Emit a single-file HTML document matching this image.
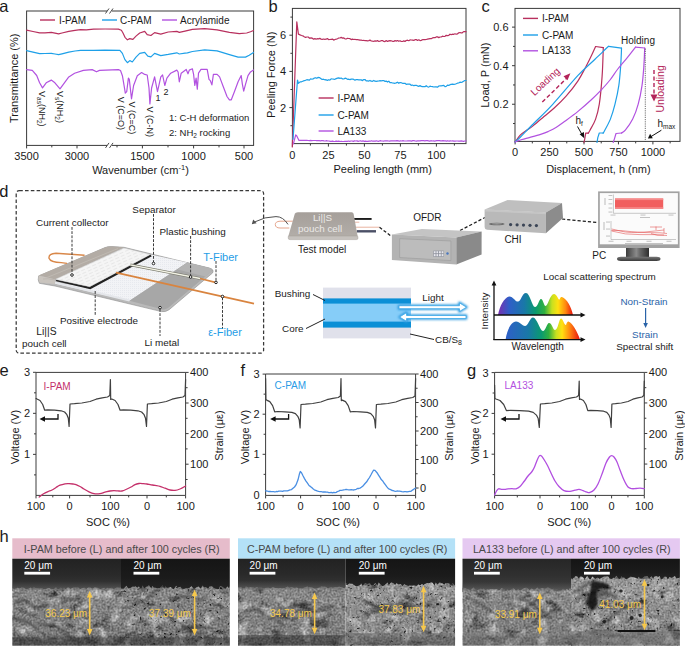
<!DOCTYPE html>
<html><head><meta charset="utf-8"><style>
html,body{margin:0;padding:0;background:#fff;}
svg{display:block;}
text{font-family:"Liberation Sans",sans-serif;}
</style></head><body>
<svg width="685" height="647" viewBox="0 0 685 647" font-family="Liberation Sans, sans-serif">
<rect width="685" height="647" fill="#fff"/>
<text x="-0.8" y="12.2" font-size="16.5" text-anchor="start" fill="#1a1a1a" >a</text>
<rect x="26.6" y="11" width="227.0" height="134.4" fill="none" stroke="#3a3a3a" stroke-width="1"/>
<rect x="107" y="9" width="5" height="4" fill="#fff"/>
<line x1="105.5" y1="13.5" x2="109" y2="8.5" stroke="#333" stroke-width="0.9" />
<line x1="109.5" y1="13.5" x2="113" y2="8.5" stroke="#333" stroke-width="0.9" />
<rect x="107" y="143.4" width="5" height="4" fill="#fff"/>
<line x1="105.5" y1="147.9" x2="109" y2="142.9" stroke="#333" stroke-width="0.9" />
<line x1="109.5" y1="147.9" x2="113" y2="142.9" stroke="#333" stroke-width="0.9" />
<line x1="26.6" y1="145.4" x2="26.6" y2="148.4" stroke="#3a3a3a" stroke-width="1" />
<line x1="77" y1="145.4" x2="77" y2="148.4" stroke="#3a3a3a" stroke-width="1" />
<line x1="51.8" y1="145.4" x2="51.8" y2="147.4" stroke="#3a3a3a" stroke-width="1" />
<line x1="142.4" y1="145.4" x2="142.4" y2="148.4" stroke="#3a3a3a" stroke-width="1" />
<line x1="193.6" y1="145.4" x2="193.6" y2="148.4" stroke="#3a3a3a" stroke-width="1" />
<line x1="244.0" y1="145.4" x2="244.0" y2="148.4" stroke="#3a3a3a" stroke-width="1" />
<line x1="117.0" y1="145.4" x2="117.0" y2="147.4" stroke="#3a3a3a" stroke-width="1" />
<line x1="168.0" y1="145.4" x2="168.0" y2="147.4" stroke="#3a3a3a" stroke-width="1" />
<line x1="219.0" y1="145.4" x2="219.0" y2="147.4" stroke="#3a3a3a" stroke-width="1" />
<text x="26.6" y="160.3" font-size="11" text-anchor="middle" fill="#1a1a1a" >3500</text>
<text x="77" y="160.3" font-size="11" text-anchor="middle" fill="#1a1a1a" >3000</text>
<text x="142.4" y="160.3" font-size="11" text-anchor="middle" fill="#1a1a1a" >1500</text>
<text x="193.6" y="160.3" font-size="11" text-anchor="middle" fill="#1a1a1a" >1000</text>
<text x="244" y="160.3" font-size="11" text-anchor="middle" fill="#1a1a1a" >500</text>
<text x="140.5" y="174" font-size="11" text-anchor="middle" fill="#1a1a1a" >Wavenumber (cm<tspan font-size="7.5" dy="-4">-1</tspan><tspan dy="4">)</tspan></text>
<text transform="translate(17.6,78.3) rotate(-90)" font-size="11" text-anchor="middle" fill="#1a1a1a">Transmittance (%)</text>
<line x1="40" y1="20" x2="55" y2="20" stroke="#b8305e" stroke-width="1.4" />
<text x="59" y="23.6" font-size="10" text-anchor="start" fill="#1a1a1a" >I-PAM</text>
<line x1="102" y1="20" x2="117" y2="20" stroke="#1ea0e8" stroke-width="1.4" />
<text x="120" y="23.6" font-size="10" text-anchor="start" fill="#1a1a1a" >C-PAM</text>
<line x1="162" y1="20" x2="177" y2="20" stroke="#b252e0" stroke-width="1.4" />
<text x="180" y="23.6" font-size="10" text-anchor="start" fill="#1a1a1a" >Acrylamide</text>
<path d="M26.6,30.2 L33.0,31.5 L39.6,32.8 L45.0,32.8 L51.3,32.4 L55.0,33.2 L58.6,33.9 L62.0,33.0 L68.8,31.4 L75.0,30.3 L80.5,29.6 L86.3,29.9 L93.6,29.1 L105.0,29.0 L118.4,29.1 L121.4,30.2 L123.0,33.0 L125.0,37.3 L127.4,39.8 L129.8,38.6 L132.9,39.4 L136.0,36.1 L139.7,33.0 L144.7,31.4 L147.2,34.6 L150.9,35.5 L154.6,32.6 L160.8,34.2 L168.2,32.0 L176.8,31.4 L179.3,32.4 L185.0,31.1 L192.4,29.3 L204.7,28.7 L217.1,29.9 L229.4,32.4 L239.3,33.6 L246.7,33.0 L250.5,31.7 L253.5,30.5" fill="none" stroke="#b8305e" stroke-width="1.2" stroke-linejoin="round" stroke-linecap="round" />
<path d="M26.6,50.7 L33.0,52.2 L39.6,53.6 L45.0,53.5 L51.3,53.3 L55.0,54.0 L58.6,54.6 L62.0,53.8 L68.8,52.1 L75.0,51.0 L80.5,50.4 L93.6,50.4 L105.0,50.2 L119.9,50.3 L122.4,53.4 L124.9,59.6 L127.4,62.7 L129.8,60.6 L132.3,62.0 L136.0,57.1 L139.7,53.4 L144.7,52.4 L147.8,56.1 L150.9,56.9 L154.6,53.4 L160.8,55.6 L168.2,54.4 L176.8,52.8 L179.3,54.0 L185.0,53.1 L187.4,52.8 L192.4,51.5 L204.7,49.9 L217.1,50.9 L229.4,54.6 L238.1,57.1 L245.5,57.1 L249.2,55.2 L253.5,52.4" fill="none" stroke="#1ea0e8" stroke-width="1.2" stroke-linejoin="round" stroke-linecap="round" />
<path d="M26.6,69.6 L32.3,70.4 L36.7,75.5 L39.6,82.8 L42.5,87.9 L46.2,82.8 L51.3,80.1 L54.9,82.8 L60.0,88.9 L64.4,82.8 L68.8,76.9 L74.6,73.3 L83.4,70.4 L92.2,69.6 L96.5,71.8 L99.5,70.4 L118.4,69.6 L120.5,70.5 L122.4,75.7 L124.3,86.8 L125.3,93.2 L126.7,91.7 L128.4,78.1 L129.3,79.4 L131.5,98.8 L133.6,85.5 L137.3,75.7 L141.6,72.6 L144.7,74.4 L147.2,75.0 L149.0,88.0 L149.9,103.9 L151.6,88.0 L154.6,76.9 L157.5,91.6 L160.8,76.9 L162.6,75.0 L164.8,85.5 L166.9,78.1 L170.7,73.2 L176.8,70.1 L178.1,72.0 L179.3,81.8 L181.2,73.2 L186.2,69.4 L188.0,73.8 L189.3,70.1 L192.4,68.8 L193.6,74.4 L194.8,85.5 L196.1,78.1 L197.3,89.2 L198.5,73.2 L201.0,69.4 L207.2,69.4 L209.0,79.3 L210.3,80.6 L211.9,84.9 L213.4,74.4 L217.1,74.4 L219.6,76.9 L223.3,86.8 L227.0,96.5 L229.4,99.8 L231.3,99.8 L234.4,91.7 L238.1,81.8 L241.2,75.6 L242.4,84.3 L243.7,91.1 L245.5,84.3 L248.0,75.6 L250.5,71.9 L253.5,70.0" fill="none" stroke="#b252e0" stroke-width="1.2" stroke-linejoin="round" stroke-linecap="round" />
<text transform="translate(39.4,91) rotate(90)" font-size="9" fill="#1a1a1a">V<tspan font-size="6.5" dy="2">as</tspan><tspan dy="-2">(NH<tspan font-size="6.5" dy="2">2</tspan><tspan dy="-2">)</tspan></tspan></text>
<text transform="translate(57.2,91) rotate(90)" font-size="9" fill="#1a1a1a">V<tspan font-size="6.5" dy="2">s</tspan><tspan dy="-2">(NH<tspan font-size="6.5" dy="2">2</tspan><tspan dy="-2">)</tspan></tspan></text>
<text transform="translate(118.0,96.8) rotate(90)" font-size="9" fill="#1a1a1a">V (C=O)</text>
<text transform="translate(128.6,101.4) rotate(90)" font-size="9" fill="#1a1a1a">V (C=C)</text>
<text transform="translate(146.5,106.5) rotate(90)" font-size="9" fill="#1a1a1a">V (C-N)</text>
<text x="155.5" y="100.8" font-size="9" text-anchor="start" fill="#1a1a1a" >1</text>
<text x="163.6" y="94.7" font-size="9" text-anchor="start" fill="#1a1a1a" >2</text>
<text x="169" y="121" font-size="9.5" text-anchor="start" fill="#1a1a1a" >1: C-H deformation</text>
<text x="169" y="136" font-size="9.5" text-anchor="start" fill="#1a1a1a" >2: NH<tspan font-size="6.5" dy="2">2</tspan><tspan dy="-2"> rocking</tspan></text>
<text x="268.6" y="12.2" font-size="16.5" text-anchor="start" fill="#1a1a1a" >b</text>
<rect x="292.4" y="8.4" width="173.60000000000002" height="135.2" fill="none" stroke="#3a3a3a" stroke-width="1"/>
<line x1="289.4" y1="107.60000000000001" x2="292.4" y2="107.60000000000001" stroke="#3a3a3a" stroke-width="1" />
<text x="286.2" y="111.60000000000001" font-size="11" text-anchor="end" fill="#1a1a1a" >2</text>
<line x1="289.4" y1="71.4" x2="292.4" y2="71.4" stroke="#3a3a3a" stroke-width="1" />
<text x="286.2" y="75.4" font-size="11" text-anchor="end" fill="#1a1a1a" >4</text>
<line x1="289.4" y1="35.2" x2="292.4" y2="35.2" stroke="#3a3a3a" stroke-width="1" />
<text x="286.2" y="39.2" font-size="11" text-anchor="end" fill="#1a1a1a" >6</text>
<line x1="290.4" y1="125.70000000000002" x2="292.4" y2="125.70000000000002" stroke="#3a3a3a" stroke-width="1" />
<line x1="290.4" y1="89.5" x2="292.4" y2="89.5" stroke="#3a3a3a" stroke-width="1" />
<line x1="290.4" y1="53.30000000000001" x2="292.4" y2="53.30000000000001" stroke="#3a3a3a" stroke-width="1" />
<line x1="290.4" y1="17.099999999999994" x2="292.4" y2="17.099999999999994" stroke="#3a3a3a" stroke-width="1" />
<line x1="292.4" y1="143.6" x2="292.4" y2="146.6" stroke="#3a3a3a" stroke-width="1" />
<text x="292.4" y="158.6" font-size="11" text-anchor="middle" fill="#1a1a1a" >0</text>
<line x1="328.4" y1="143.6" x2="328.4" y2="146.6" stroke="#3a3a3a" stroke-width="1" />
<text x="328.4" y="158.6" font-size="11" text-anchor="middle" fill="#1a1a1a" >25</text>
<line x1="364.4" y1="143.6" x2="364.4" y2="146.6" stroke="#3a3a3a" stroke-width="1" />
<text x="364.4" y="158.6" font-size="11" text-anchor="middle" fill="#1a1a1a" >50</text>
<line x1="400.4" y1="143.6" x2="400.4" y2="146.6" stroke="#3a3a3a" stroke-width="1" />
<text x="400.4" y="158.6" font-size="11" text-anchor="middle" fill="#1a1a1a" >75</text>
<line x1="436.4" y1="143.6" x2="436.4" y2="146.6" stroke="#3a3a3a" stroke-width="1" />
<text x="436.4" y="158.6" font-size="11" text-anchor="middle" fill="#1a1a1a" >100</text>
<line x1="310.4" y1="143.6" x2="310.4" y2="145.6" stroke="#3a3a3a" stroke-width="1" />
<line x1="346.4" y1="143.6" x2="346.4" y2="145.6" stroke="#3a3a3a" stroke-width="1" />
<line x1="382.4" y1="143.6" x2="382.4" y2="145.6" stroke="#3a3a3a" stroke-width="1" />
<line x1="418.4" y1="143.6" x2="418.4" y2="145.6" stroke="#3a3a3a" stroke-width="1" />
<line x1="454.4" y1="143.6" x2="454.4" y2="145.6" stroke="#3a3a3a" stroke-width="1" />
<text x="382.7" y="173" font-size="11" text-anchor="middle" fill="#1a1a1a" >Peeling length (mm)</text>
<text transform="translate(275,74.8) rotate(-90)" font-size="11" text-anchor="middle" fill="#1a1a1a">Peeling Force (N)</text>
<line x1="318.6" y1="98" x2="333.6" y2="98" stroke="#b8305e" stroke-width="1.4" />
<text x="337.4" y="101.6" font-size="10" text-anchor="start" fill="#1a1a1a" >I-PAM</text>
<line x1="318.6" y1="115" x2="333.6" y2="115" stroke="#1ea0e8" stroke-width="1.4" />
<text x="337.4" y="118.6" font-size="10" text-anchor="start" fill="#1a1a1a" >C-PAM</text>
<line x1="318.6" y1="131" x2="333.6" y2="131" stroke="#b252e0" stroke-width="1.4" />
<text x="337.4" y="134.6" font-size="10" text-anchor="start" fill="#1a1a1a" >LA133</text>
<path d="M292.3,147.0 L296.8,21.8 L298.4,34.1 L300.1,34.9 L301.5,35.5 L302.8,35.8 L304.2,36.8 L305.5,37.4 L306.9,37.0 L308.2,37.0 L309.6,38.3 L310.9,37.9 L312.3,38.2 L313.6,39.2 L314.8,38.6 L316.1,39.1 L317.3,38.7 L318.6,38.9 L319.8,38.4 L321.1,39.1 L322.3,39.4 L323.6,39.0 L324.8,39.3 L326.1,39.2 L327.3,38.6 L328.6,39.6 L329.9,39.5 L331.2,39.3 L332.4,39.1 L333.7,40.1 L335.0,39.5 L336.2,39.2 L337.5,38.7 L338.7,38.0 L340.0,38.0 L341.2,37.4 L342.5,38.1 L343.8,37.9 L345.0,38.8 L346.2,39.0 L347.5,38.3 L348.8,38.5 L350.0,38.7 L351.2,39.6 L352.5,39.1 L353.8,39.5 L355.0,39.3 L356.2,39.7 L357.5,39.7 L358.8,39.8 L360.0,40.1 L361.2,40.1 L362.5,40.5 L363.8,40.3 L365.0,40.7 L366.2,40.6 L367.5,40.9 L368.8,40.6 L370.0,40.1 L371.2,41.0 L372.5,41.2 L373.8,41.3 L375.0,40.9 L376.2,41.2 L377.5,40.6 L378.8,41.4 L380.0,41.1 L381.2,40.7 L382.5,40.5 L383.8,41.4 L385.0,41.6 L386.2,40.5 L387.5,41.4 L388.8,40.9 L390.0,40.6 L391.2,40.8 L392.5,41.3 L393.8,41.4 L395.0,40.5 L396.2,41.1 L397.5,40.5 L398.8,41.3 L400.0,40.8 L401.2,41.4 L402.5,41.5 L403.8,40.9 L405.0,41.5 L406.2,40.5 L407.5,40.2 L408.8,40.7 L410.0,39.9 L411.2,40.0 L412.5,40.2 L413.8,40.4 L415.0,39.7 L416.2,39.5 L417.5,40.5 L418.8,39.8 L420.0,40.6 L421.2,40.4 L422.5,39.7 L423.8,39.7 L425.0,39.6 L426.2,39.5 L427.5,39.2 L428.8,38.9 L430.0,38.6 L431.2,38.7 L432.5,37.9 L433.8,37.6 L435.0,37.7 L436.2,36.9 L437.5,36.9 L438.8,37.6 L440.0,37.0 L441.2,37.0 L442.5,36.2 L443.8,36.5 L445.0,36.3 L446.2,35.3 L447.5,35.6 L448.8,35.3 L450.0,34.2 L451.2,34.6 L452.5,34.2 L453.8,34.3 L455.0,33.8 L456.2,34.2 L457.4,34.0 L458.7,32.8 L459.9,32.5 L461.1,32.8 L462.3,32.8 L463.6,31.6 L464.8,31.6 L466.0,31.7" fill="none" stroke="#b8305e" stroke-width="1.2" stroke-linejoin="round" stroke-linecap="round" />
<path d="M293.0,139.3 L297.5,80.0 L298.4,83.4 L300.1,81.9 L301.5,81.8 L302.8,81.2 L304.2,80.6 L305.5,80.3 L306.9,79.7 L308.1,79.8 L309.4,80.1 L310.6,78.8 L311.8,79.2 L313.1,79.0 L314.3,78.1 L315.5,77.7 L316.8,78.3 L318.0,77.4 L319.4,77.6 L320.7,78.5 L322.1,79.5 L323.4,79.2 L324.8,79.8 L326.1,79.7 L327.3,80.4 L328.6,79.7 L329.9,80.1 L331.1,78.9 L332.4,79.0 L333.7,79.2 L334.9,79.3 L336.2,78.6 L337.5,78.1 L338.7,77.9 L340.0,78.4 L341.2,78.0 L342.5,78.9 L343.8,79.0 L345.0,78.2 L346.2,78.4 L347.5,79.3 L348.8,79.2 L350.0,79.6 L351.2,79.1 L352.5,79.0 L353.8,79.4 L355.0,80.2 L356.2,79.5 L357.5,79.7 L358.8,79.9 L360.0,79.9 L361.2,79.9 L362.5,80.6 L363.8,79.6 L365.0,79.5 L366.2,80.8 L367.5,80.8 L368.8,81.1 L370.0,80.4 L371.2,81.2 L372.5,81.3 L373.8,80.4 L375.0,81.2 L376.2,81.4 L377.5,81.2 L378.8,81.0 L380.0,80.7 L381.2,80.8 L382.5,80.7 L383.8,80.6 L385.0,81.4 L386.2,81.1 L387.5,82.1 L388.8,81.2 L390.0,82.6 L391.2,82.5 L392.5,83.0 L393.8,83.1 L395.0,83.3 L396.2,82.9 L397.5,82.2 L398.8,83.3 L400.0,82.5 L401.2,82.7 L402.5,83.3 L403.8,83.3 L405.0,83.3 L406.2,84.3 L407.5,84.1 L408.8,84.0 L410.0,84.2 L411.2,85.3 L412.5,85.0 L413.8,85.7 L415.0,85.4 L416.2,85.3 L417.5,85.9 L418.8,86.4 L420.0,85.5 L421.2,86.4 L422.5,86.7 L423.8,86.6 L425.0,86.7 L426.2,85.7 L427.5,86.7 L428.8,87.1 L430.0,86.1 L431.2,86.5 L432.5,86.6 L433.8,87.0 L435.0,86.9 L436.2,86.9 L437.5,87.2 L438.8,86.0 L440.0,85.9 L441.2,85.8 L442.5,85.6 L443.8,85.4 L445.0,86.7 L446.2,86.4 L447.5,85.1 L448.8,85.4 L450.0,84.7 L451.2,84.4 L452.5,84.1 L453.8,84.3 L455.0,84.1 L456.2,83.7 L457.4,83.2 L458.7,83.0 L459.9,82.2 L461.1,82.3 L462.3,82.1 L463.6,81.2 L464.8,80.5 L466.0,80.5" fill="none" stroke="#1ea0e8" stroke-width="1.2" stroke-linejoin="round" stroke-linecap="round" />
<path d="M293.4,143.8 L295.7,134.8 L296.8,136.0 L299.0,140.4 L306.9,140.3 L308.1,140.5 L309.4,140.6 L310.6,140.4 L311.8,140.6 L313.0,140.5 L314.3,140.5 L315.5,140.5 L316.7,140.6 L317.9,140.7 L319.2,140.6 L320.4,140.8 L321.6,140.7 L322.8,140.7 L324.1,140.9 L325.3,141.0 L326.5,140.7 L327.7,141.0 L329.0,141.0 L330.2,141.3 L331.4,141.4 L332.6,141.1 L333.9,141.5 L335.1,141.4 L336.3,141.1 L337.5,141.3 L338.8,141.1 L340.0,141.5 L341.2,141.4 L342.4,141.5 L343.6,141.5 L344.8,141.4 L346.1,141.4 L347.3,141.3 L348.5,141.0 L349.7,141.3 L350.9,141.0 L352.1,141.0 L353.3,141.4 L354.5,140.9 L355.8,141.0 L357.0,140.9 L358.2,141.4 L359.4,141.0 L360.6,140.9 L361.8,141.3 L363.0,140.9 L364.2,141.3 L365.5,141.2 L366.7,141.3 L367.9,141.3 L369.1,141.1 L370.3,141.2 L371.5,140.8 L372.7,141.2 L373.9,141.0 L375.2,141.1 L376.4,140.8 L377.6,141.2 L378.8,141.3 L380.0,140.7 L381.2,140.9 L382.4,141.0 L383.6,141.2 L384.8,140.8 L386.1,140.8 L387.3,140.8 L388.5,141.0 L389.7,141.1 L390.9,140.9 L392.1,140.9 L393.3,140.9 L394.5,140.9 L395.8,140.9 L397.0,140.7 L398.2,140.9 L399.4,141.2 L400.6,140.8 L401.8,141.0 L403.0,140.7 L404.2,141.0 L405.5,141.0 L406.7,141.0 L407.9,140.9 L409.1,140.8 L410.3,140.9 L411.5,141.1 L412.7,140.6 L413.9,140.6 L415.2,141.0 L416.4,141.1 L417.6,140.8 L418.8,140.8 L420.0,140.9 L421.2,140.6 L422.4,140.7 L423.6,140.6 L424.8,140.9 L426.1,140.7 L427.3,140.7 L428.5,140.9 L429.7,141.1 L430.9,140.7 L432.1,141.0 L433.3,140.8 L434.5,141.1 L435.7,140.9 L436.9,140.7 L438.2,140.7 L439.4,140.6 L440.6,140.9 L441.8,140.8 L443.0,140.7 L444.2,140.8 L445.4,140.8 L446.6,141.1 L447.8,140.7 L449.1,141.2 L450.3,140.9 L451.5,141.0 L452.7,140.9 L453.9,141.2 L455.1,141.2 L456.3,141.0 L457.5,141.0 L458.7,141.1 L459.9,141.2 L461.2,140.9 L462.4,141.1 L463.6,141.3 L464.8,141.0 L466.0,140.8" fill="none" stroke="#b252e0" stroke-width="1.2" stroke-linejoin="round" stroke-linecap="round" />
<text x="481.6" y="12.2" font-size="16.5" text-anchor="start" fill="#1a1a1a" >c</text>
<rect x="515.0" y="8.4" width="165.0" height="133.0" fill="none" stroke="#3a3a3a" stroke-width="1"/>
<line x1="512.0" y1="104.24000000000001" x2="515.0" y2="104.24000000000001" stroke="#3a3a3a" stroke-width="1" />
<text x="508.5" y="108.24000000000001" font-size="11" text-anchor="end" fill="#1a1a1a" >0.2</text>
<line x1="512.0" y1="65.68" x2="515.0" y2="65.68" stroke="#3a3a3a" stroke-width="1" />
<text x="508.5" y="69.68" font-size="11" text-anchor="end" fill="#1a1a1a" >0.4</text>
<line x1="512.0" y1="27.120000000000005" x2="515.0" y2="27.120000000000005" stroke="#3a3a3a" stroke-width="1" />
<text x="508.5" y="31.120000000000005" font-size="11" text-anchor="end" fill="#1a1a1a" >0.6</text>
<line x1="513.0" y1="123.52000000000001" x2="515.0" y2="123.52000000000001" stroke="#3a3a3a" stroke-width="1" />
<line x1="513.0" y1="84.96000000000001" x2="515.0" y2="84.96000000000001" stroke="#3a3a3a" stroke-width="1" />
<line x1="513.0" y1="46.400000000000006" x2="515.0" y2="46.400000000000006" stroke="#3a3a3a" stroke-width="1" />
<line x1="515.1" y1="141.4" x2="515.1" y2="144.4" stroke="#3a3a3a" stroke-width="1" />
<text x="515.1" y="155.9" font-size="11" text-anchor="middle" fill="#1a1a1a" >0</text>
<line x1="549.5500000000001" y1="141.4" x2="549.5500000000001" y2="144.4" stroke="#3a3a3a" stroke-width="1" />
<text x="549.5500000000001" y="155.9" font-size="11" text-anchor="middle" fill="#1a1a1a" >250</text>
<line x1="584.0" y1="141.4" x2="584.0" y2="144.4" stroke="#3a3a3a" stroke-width="1" />
<text x="584.0" y="155.9" font-size="11" text-anchor="middle" fill="#1a1a1a" >500</text>
<line x1="618.45" y1="141.4" x2="618.45" y2="144.4" stroke="#3a3a3a" stroke-width="1" />
<text x="618.45" y="155.9" font-size="11" text-anchor="middle" fill="#1a1a1a" >750</text>
<line x1="652.9000000000001" y1="141.4" x2="652.9000000000001" y2="144.4" stroke="#3a3a3a" stroke-width="1" />
<text x="652.9000000000001" y="155.9" font-size="11" text-anchor="middle" fill="#1a1a1a" >1000</text>
<line x1="532.325" y1="141.4" x2="532.325" y2="143.4" stroke="#3a3a3a" stroke-width="1" />
<line x1="566.775" y1="141.4" x2="566.775" y2="143.4" stroke="#3a3a3a" stroke-width="1" />
<line x1="601.225" y1="141.4" x2="601.225" y2="143.4" stroke="#3a3a3a" stroke-width="1" />
<line x1="635.6750000000001" y1="141.4" x2="635.6750000000001" y2="143.4" stroke="#3a3a3a" stroke-width="1" />
<line x1="670.125" y1="141.4" x2="670.125" y2="143.4" stroke="#3a3a3a" stroke-width="1" />
<text x="598.4" y="173" font-size="11" text-anchor="middle" fill="#1a1a1a" >Displacement, h (nm)</text>
<text transform="translate(488.6,75.2) rotate(-90)" font-size="11" text-anchor="middle" fill="#1a1a1a">Load, P (mN)</text>
<line x1="523" y1="18.4" x2="538" y2="18.4" stroke="#b8305e" stroke-width="1.4" />
<text x="541.9" y="22" font-size="10" text-anchor="start" fill="#1a1a1a" >I-PAM</text>
<line x1="523" y1="35" x2="538" y2="35" stroke="#1ea0e8" stroke-width="1.4" />
<text x="541.9" y="38.6" font-size="10" text-anchor="start" fill="#1a1a1a" >C-PAM</text>
<line x1="523" y1="50.8" x2="538" y2="50.8" stroke="#b252e0" stroke-width="1.4" />
<text x="541.9" y="54.4" font-size="10" text-anchor="start" fill="#1a1a1a" >LA133</text>
<path d="M515.1,142.0 C516.0,140.9 518.2,137.2 520.2,135.2 C522.2,133.2 524.9,131.6 527.0,130.1 C529.1,128.6 530.2,128.2 533.0,125.9 C535.8,123.6 540.5,119.5 544.0,116.5 C547.5,113.5 550.5,111.4 554.2,108.0 C557.9,104.6 562.1,100.6 566.1,96.1 C570.1,91.6 574.6,85.9 578.0,80.8 C581.4,75.7 584.2,69.8 586.5,65.5 C588.8,61.2 590.1,58.5 591.6,55.3 C593.1,52.1 594.9,48.0 595.6,46.5" fill="none" stroke="#b8305e" stroke-width="1.2" stroke-linejoin="round" stroke-linecap="round" />
<path d="M595.6,46.5 L603.3,47.6" fill="none" stroke="#b8305e" stroke-width="1.2" stroke-linejoin="round" stroke-linecap="round" />
<path d="M603.3,47.6 C603.1,52.4 602.8,67.0 602.1,76.4 C601.4,85.8 600.4,97.1 599.3,104.2 C598.2,111.3 597.1,114.8 595.6,119.1 C594.1,123.4 591.2,127.8 590.0,130.2 C588.8,132.5 588.5,132.7 588.2,133.2" fill="none" stroke="#b8305e" stroke-width="1.2" stroke-linejoin="round" stroke-linecap="round" />
<path d="M588.2,133.2 L585.7,133.2 L584.8,138.6 L584.0,142.5" fill="none" stroke="#b8305e" stroke-width="1.2" stroke-linejoin="round" stroke-linecap="round" />
<path d="M515.1,142.0 C515.9,141.2 517.2,140.3 520.0,137.5 C522.8,134.7 526.7,130.5 532.1,125.0 C537.5,119.5 544.9,112.9 552.5,104.6 C560.1,96.3 570.9,83.0 578.0,75.4 C585.1,67.8 589.9,64.1 595.0,59.2 C600.1,54.4 606.3,48.4 608.6,46.3" fill="none" stroke="#1ea0e8" stroke-width="1.2" stroke-linejoin="round" stroke-linecap="round" />
<path d="M608.6,46.3 L621.5,48.2" fill="none" stroke="#1ea0e8" stroke-width="1.2" stroke-linejoin="round" stroke-linecap="round" />
<path d="M621.5,48.2 C621.4,51.4 621.1,60.8 620.6,67.1 C620.1,73.3 619.7,79.5 618.8,85.7 C617.9,91.9 616.4,98.6 615.0,104.2 C613.6,109.8 612.2,114.5 610.4,119.1 C608.5,123.7 605.1,129.7 603.9,132.0 C602.7,134.3 603.1,132.8 603.0,133.0" fill="none" stroke="#1ea0e8" stroke-width="1.2" stroke-linejoin="round" stroke-linecap="round" />
<path d="M603.0,133.0 L599.3,133.0 L597.8,137.6 L597.0,142.5" fill="none" stroke="#1ea0e8" stroke-width="1.2" stroke-linejoin="round" stroke-linecap="round" />
<path d="M515.1,142.0 C516.2,141.6 519.5,140.3 522.0,139.5 C524.5,138.7 526.9,138.2 530.0,137.3 C533.1,136.5 537.6,135.4 540.6,134.4 C543.6,133.4 545.4,132.8 548.0,131.6 C550.6,130.4 553.3,129.2 556.0,127.5 C558.7,125.8 560.7,124.3 564.4,121.6 C568.1,118.9 573.5,115.1 578.0,111.4 C582.5,107.7 587.6,103.2 591.6,99.5 C595.6,95.8 598.7,92.5 601.8,89.3 C604.9,86.0 607.3,83.4 610.0,80.0 C612.7,76.6 614.9,72.7 617.8,69.0 C620.6,65.3 624.1,61.4 627.1,57.8 C630.1,54.1 634.1,48.9 635.5,47.1" fill="none" stroke="#b252e0" stroke-width="1.2" stroke-linejoin="round" stroke-linecap="round" />
<path d="M635.5,47.1 L644.7,48.0" fill="none" stroke="#b252e0" stroke-width="1.2" stroke-linejoin="round" stroke-linecap="round" />
<path d="M644.7,48.0 C644.6,51.2 644.2,60.8 643.8,67.1 C643.3,73.4 642.9,79.5 642.0,85.7 C641.1,91.9 639.8,98.6 638.2,104.2 C636.7,109.8 634.9,114.8 632.7,119.1 C630.6,123.4 627.2,127.9 625.3,130.2 C623.4,132.5 622.1,132.5 621.5,133.0" fill="none" stroke="#b252e0" stroke-width="1.2" stroke-linejoin="round" stroke-linecap="round" />
<path d="M621.5,133.0 L616.0,133.5 L614.5,138.6 L613.2,142.5" fill="none" stroke="#b252e0" stroke-width="1.2" stroke-linejoin="round" stroke-linecap="round" />
<line x1="645.3" y1="48.6" x2="645.3" y2="141.5" stroke="#333" stroke-width="0.7" stroke-dasharray="1.2,1"/>
<text x="638" y="44.3" font-size="10" text-anchor="middle" fill="#1a1a1a" >Holding</text>
<line x1="542.3" y1="102" x2="567.5" y2="77.5" stroke="#b3245a" stroke-width="1.4" stroke-dasharray="4,2.5"/>
<path d="M570.4,73.2 L563.5,76.2 L567.5,80.2 Z" fill="#b3245a"/>
<text transform="translate(547.5,84) rotate(-43)" font-size="10" text-anchor="middle" fill="#b3245a">Loading</text>
<line x1="654" y1="69.9" x2="654" y2="96" stroke="#b3245a" stroke-width="1.4" stroke-dasharray="4,2.5"/>
<path d="M650.5,94.5 L657.5,94.5 L654,101.4 Z" fill="#b3245a"/>
<text transform="translate(664.3,88.9) rotate(-90)" font-size="10.5" text-anchor="middle" fill="#b3245a">Unloading</text>
<text x="575.5" y="124" font-size="10" text-anchor="start" fill="#1a1a1a" >h<tspan font-size="6.5" dy="2">f</tspan></text>
<line x1="577.5" y1="126.5" x2="582" y2="134.5" stroke="#111" stroke-width="1" />
<path d="M584.3,138.3 L579.6,134.2 L583.9,132.1 Z" fill="#111"/>
<text x="657.5" y="126.5" font-size="10" text-anchor="start" fill="#1a1a1a" >h<tspan font-size="6.5" dy="2">max</tspan></text>
<line x1="661.4" y1="130.2" x2="651" y2="136.6" stroke="#111" stroke-width="1" />
<path d="M647.9,138.6 L650.1,133.8 L652.8,138.3 Z" fill="#111"/>
<text x="-0.8" y="196.6" font-size="16.5" text-anchor="start" fill="#1a1a1a" >d</text>
<rect x="16.2" y="190.6" width="247.4" height="162.6" rx="3" fill="none" stroke="#383838" stroke-width="1.25" stroke-dasharray="3.6,2.2"/>
<defs><pattern id="dots" width="2" height="2" patternUnits="userSpaceOnUse"><rect width="2" height="2" fill="#f2f3f6"/><rect width="0.8" height="0.8" fill="#e2e4ea"/></pattern>
<pattern id="streak" width="6" height="3" patternUnits="userSpaceOnUse" patternTransform="rotate(-24)"><rect width="6" height="3" fill="#f5f5f5"/><rect y="1" width="4" height="0.7" fill="#e2e2e2"/></pattern></defs>
<path d="M38.6,276 L105,247.6 Q108,246.3 112,246.6 L124,247.3 L209.5,268.1 Q214.5,269.5 212.5,273 L169,309.8 Q165.5,312.3 161.5,311.6 L55,286 L39.4,283.3 Q37.5,280 38.6,276 Z" fill="#b9b9b9" stroke="#8c8c8c" stroke-width="0.6"/>
<path d="M55,283 L89.7,287 L150.3,254.5 L187.3,262.5 L129.5,300.8 L55.5,283.8 Z" fill="url(#dots)"/>
<path d="M55,282.5 L129.5,300.5" stroke="#e4e6ea" stroke-width="2.2"/>
<path d="M187.3,262.5 L209.5,268.1 Q213,269.3 211.3,271.6 L168,308 Q165,310 162,309.3 L129.5,300.8 Z" fill="#a7a7a7"/>
<path d="M187.3,262.5 L209.5,268.1 Q213,269.3 211.3,271.6 L205.5,276.5 L177.5,269.5 Z" fill="#b4b4b4"/>
<path d="M38.6,275.5 L105,247.4 Q108,246.2 112,246.5 L124,247.3 L55.4,279.5 Z" fill="#b3aca5"/>
<path d="M38.6,275.5 L55.4,279.5 L54.7,284 L39.6,282.6 Q37.6,279.5 38.6,275.5 Z" fill="#c9c4be"/>
<path d="M43,279 Q47,278 55,280" stroke="#bdb7b1" stroke-width="1" fill="none"/>
<path d="M47,277.5 L118,248.5" stroke="#bfb9b2" stroke-width="1" fill="none"/>
<path d="M55.4,279.5 L56.5,281.3 L90.3,289.3 L151.8,256.2 L150.3,254.5 L89.7,286.7 Z" fill="#222"/>
<path d="M55.4,279.3 L124,248 L150.3,254.5 L89.7,286.7 Z" fill="url(#streak)" stroke="#d0d0d0" stroke-width="0.4"/>
<path d="M84.6,255.3 L56,253.2 Q48.5,253.5 49,258.2 Q50.5,262.3 61.3,262.6 L67,263.4" fill="none" stroke="#d9884a" stroke-width="1.4"/>
<path d="M130.3,264.9 L200.1,278.5" stroke="#77776a" stroke-width="2.6" fill="none"/>
<path d="M130.3,264.9 L200.1,278.5" stroke="#f3f3e6" stroke-width="1.4" fill="none"/>
<path d="M200.1,278.5 L216.2,282.6" stroke="#d9843f" stroke-width="1.6" fill="none"/>
<path d="M116,272.6 L254,303.6" stroke="#d9843f" stroke-width="1.6" fill="none"/>
<line x1="72" y1="227" x2="72" y2="273" stroke="#3a3a3a" stroke-width="1" stroke-dasharray="2.8,1.4"/>
<circle cx="72" cy="275" r="1.3" fill="#fff" stroke="#111" stroke-width="0.9"/>
<line x1="153.5" y1="214" x2="153.5" y2="262" stroke="#3a3a3a" stroke-width="1" stroke-dasharray="2.8,1.4"/>
<circle cx="153.5" cy="263.5" r="1.3" fill="#fff" stroke="#111" stroke-width="0.9"/>
<line x1="190.6" y1="236" x2="190.6" y2="275.5" stroke="#3a3a3a" stroke-width="1" stroke-dasharray="2.8,1.4"/>
<circle cx="190.6" cy="277" r="1.3" fill="#fff" stroke="#111" stroke-width="0.9"/>
<line x1="216" y1="261" x2="216" y2="281" stroke="#3a3a3a" stroke-width="1" stroke-dasharray="2.8,1.4"/>
<circle cx="216" cy="282.4" r="1.3" fill="#fff" stroke="#111" stroke-width="0.9"/>
<line x1="222.5" y1="297.5" x2="222.5" y2="329" stroke="#3a3a3a" stroke-width="1" stroke-dasharray="2.8,1.4"/>
<circle cx="222.5" cy="296.5" r="1.3" fill="#fff" stroke="#111" stroke-width="0.9"/>
<line x1="160" y1="309" x2="160" y2="336" stroke="#3a3a3a" stroke-width="1" stroke-dasharray="2.8,1.4"/>
<circle cx="160" cy="307.6" r="1.3" fill="#fff" stroke="#111" stroke-width="0.9"/>
<line x1="95.2" y1="291" x2="95.2" y2="316" stroke="#3a3a3a" stroke-width="1" stroke-dasharray="2.8,1.4"/>
<text x="72.3" y="225.6" font-size="9.9" text-anchor="middle" fill="#1a1a1a" >Current collector</text>
<text x="154" y="212.7" font-size="9.9" text-anchor="middle" fill="#1a1a1a" >Separator</text>
<text x="192.6" y="234.7" font-size="9.9" text-anchor="middle" fill="#1a1a1a" >Plastic bushing</text>
<text x="220.6" y="260.8" font-size="11" text-anchor="middle" fill="#1f9de6" >T-Fiber</text>
<text x="225" y="336" font-size="11" text-anchor="middle" fill="#1f9de6" >ε-Fiber</text>
<text x="161.8" y="345.6" font-size="9.9" text-anchor="middle" fill="#1a1a1a" >Li metal</text>
<text x="99" y="323.6" font-size="9.9" text-anchor="middle" fill="#1a1a1a" >Positive electrode</text>
<text x="46.4" y="334.6" font-size="10.3" text-anchor="middle" fill="#1a1a1a" >Li||S</text>
<text x="44.3" y="347.4" font-size="9.9" text-anchor="middle" fill="#1a1a1a" >pouch  cell</text>
<path d="M292.8,221.2 L280,221.2 Q275.3,221.5 275.3,224.6 Q275.5,228 280,228 L289.3,228" fill="none" stroke="#e6a58c" stroke-width="1"/>
<path d="M288,224.4 Q283,216.5 276,216.6 Q265,216.5 254.5,222" fill="none" stroke="#505050" stroke-width="1"/>
<path d="M251.8,224.2 L253.2,219.6 L256.6,223.2 Z" fill="#505050"/>
<path d="M354,218 L371.6,218 L371.6,219.9 L354,219.9 Z" fill="#1c1c1c"/>
<path d="M354,221.7 L359.3,221.7 L359.3,222.7 L354,222.7 Z" fill="#eab8a6"/>
<path d="M356,226.7 L379.5,226.7 L379.5,227.7 L356,227.7 Z" fill="#e9b3a0"/>
<path d="M356.7,230.1 L376,230.1 L376,232.5 L356.7,232.5 Z" fill="#4b5066"/>
<defs><linearGradient id="tm" x1="0" x2="0" y1="0" y2="1"><stop offset="0" stop-color="#a59f9a"/><stop offset="1" stop-color="#b2ada8"/></linearGradient></defs>
<path d="M297.8,212.3 L351.7,212.3 Q353.2,212.3 353.6,213.8 L357.6,236 L288.4,236 L294.8,213.8 Q295.3,212.3 297.8,212.3 Z" fill="url(#tm)"/>
<path d="M288.4,236 L357.6,236 L358,238 Q358,239.6 356.4,239.6 L290,239.6 Q288.2,239.6 288.2,238 Z" fill="#c6c2be" stroke="#a29c97" stroke-width="0.5"/>
<text x="322.5" y="221.2" font-size="9.8" text-anchor="middle" fill="#ebe9e7" >Li||S</text>
<text x="320.1" y="232.2" font-size="9.8" text-anchor="middle" fill="#ebe9e7" >pouch cell</text>
<text x="322.1" y="252.6" font-size="10" text-anchor="middle" fill="#1a1a1a" >Test model</text>
<path d="M379.5,227.2 L391.5,236.5" stroke="#1e1e1e" stroke-width="1.25" stroke-dasharray="3.2,2" fill="none"/>
<path d="M460,230.5 L485,217.5" stroke="#1e1e1e" stroke-width="1.25" stroke-dasharray="3.2,2" fill="none"/>
<path d="M562,219 L597,222.5" stroke="#1e1e1e" stroke-width="1.25" stroke-dasharray="3.2,2" fill="none"/>
<path d="M391.9,234.6 L421.8,228.9 L481.6,231.5 L456.3,237.6 Z" fill="#c4c4c4"/>
<path d="M391.9,234.6 L456.3,237.6 L456.3,264.5 L391.9,259.9 Z" fill="#b3b3b3"/>
<path d="M456.3,237.6 L481.6,231.5 L481.6,254.5 L456.3,264.5 Z" fill="#8a8a8a"/>
<path d="M399.6,238.7 L450.9,241 L450.9,260.6 L399.6,257.5 Z" fill="#bcbcbc" stroke="#9a9a9a" stroke-width="0.6"/>
<rect x="433.3" y="250.7" width="10.5" height="6" fill="#8b8f9a"/>
<rect x="433.8" y="251.2" width="1.8" height="2.1" fill="#e8e8ee"/>
<rect x="433.8" y="254.1" width="1.8" height="2.1" fill="#e8e8ee"/>
<rect x="436.4" y="251.2" width="1.8" height="2.1" fill="#e8e8ee"/>
<rect x="436.4" y="254.1" width="1.8" height="2.1" fill="#e8e8ee"/>
<rect x="439.0" y="251.2" width="1.8" height="2.1" fill="#e8e8ee"/>
<rect x="439.0" y="254.1" width="1.8" height="2.1" fill="#e8e8ee"/>
<rect x="441.6" y="251.2" width="1.8" height="2.1" fill="#e8e8ee"/>
<rect x="441.6" y="254.1" width="1.8" height="2.1" fill="#e8e8ee"/>
<circle cx="447.5" cy="253.5" r="1.2" fill="#4a78c0"/>
<text x="427.3" y="220.8" font-size="10" text-anchor="middle" fill="#1a1a1a" >OFDR</text>
<path d="M484.6,209.5 L507.6,200 L562,203.1 L545.9,212.6 Z" fill="#bfbfbf"/>
<path d="M484.6,209.5 L545.9,212.6 L545.9,233.3 L487,229.8 Q484.6,229.5 484.6,227 Z" fill="#b9b9b9"/>
<path d="M545.9,212.6 L562,203.1 L563,218 L545.9,233.3 Z" fill="#8c8c8c"/>
<ellipse cx="496.8" cy="224" rx="7.8" ry="1.3" fill="#6a6a6a"/>
<ellipse cx="496.8" cy="223.8" rx="5.5" ry="0.6" fill="#a8a8a8"/>
<path d="M485.5,210 Q486,209.6 487,209.6 L545.9,212.7 L545.9,214.3 L485,211.4 Z" fill="#c6c6c6"/>
<circle cx="510.6" cy="224.6" r="1.6" fill="#3b4556"/>
<circle cx="517.1" cy="224.8" r="1.6" fill="#3b4556"/>
<circle cx="523.5" cy="225.1" r="1.6" fill="#3b4556"/>
<circle cx="530.0" cy="225.3" r="1.6" fill="#3b4556"/>
<circle cx="536.4" cy="225.6" r="1.6" fill="#3b4556"/>
<text x="513" y="243" font-size="10" text-anchor="middle" fill="#1a1a1a" >CHI</text>
<defs><linearGradient id="neck" x1="0" x2="1" y1="0" y2="0"><stop offset="0" stop-color="#3c3c3c"/><stop offset="0.45" stop-color="#8a8a8a"/><stop offset="0.6" stop-color="#6a6a6a"/><stop offset="1" stop-color="#2e2e2e"/></linearGradient>
<linearGradient id="pbase" x1="0" x2="0" y1="0" y2="1"><stop offset="0" stop-color="#777"/><stop offset="1" stop-color="#3a3a3a"/></linearGradient></defs>
<rect x="598.1" y="191.4" width="81.5" height="56.6" fill="#a2a2a2"/>
<rect x="599.8" y="193.1" width="78.1" height="51.2" fill="#fbfbfb"/>
<rect x="615" y="198.5" width="48.2" height="10.3" fill="#f15f5f"/>
<rect x="615" y="198.5" width="48.2" height="1.6" fill="#f58a8a"/>
<rect x="615" y="207.2" width="48.2" height="1.6" fill="#f58a8a"/>
<path d="M613.4,194.5 L613.4,213.3 L676,213.3" fill="none" stroke="#8a8a8a" stroke-width="0.45"/>
<rect x="608.5" y="195.1" width="3.8" height="0.9" fill="#bbb"/>
<rect x="608.5" y="199.1" width="3.8" height="0.9" fill="#bbb"/>
<rect x="608.5" y="203.4" width="3.8" height="0.9" fill="#bbb"/>
<rect x="608.5" y="207.6" width="3.8" height="0.9" fill="#bbb"/>
<rect x="608.5" y="211.6" width="3.8" height="0.9" fill="#bbb"/>
<rect x="604.5" y="198" width="1" height="7" fill="#bbb"/>
<rect x="610.5" y="214.6" width="5" height="0.9" fill="#bbb"/>
<rect x="640.5" y="214.6" width="5" height="0.9" fill="#bbb"/>
<rect x="668.5" y="214.6" width="5" height="0.9" fill="#bbb"/>
<rect x="640" y="217" width="10" height="0.9" fill="#bbb"/>
<path d="M611,221 L611,239.5 L676,239.5" fill="none" stroke="#8a8a8a" stroke-width="0.45"/>
<rect x="606" y="221.6" width="4" height="0.9" fill="#bbb"/>
<rect x="606" y="228.6" width="4" height="0.9" fill="#bbb"/>
<rect x="606" y="235.6" width="4" height="0.9" fill="#bbb"/>
<rect x="603.5" y="222" width="1" height="8" fill="#bbb"/>
<rect x="608.5" y="240.8" width="5" height="0.9" fill="#bbb"/>
<rect x="626.5" y="240.8" width="5" height="0.9" fill="#bbb"/>
<rect x="646.5" y="240.8" width="5" height="0.9" fill="#bbb"/>
<rect x="666.5" y="240.8" width="5" height="0.9" fill="#bbb"/>
<rect x="625" y="243" width="38" height="0.9" fill="#bbb"/>
<path d="M611.5,229 Q615,229.5 620,231 Q630,233.5 645,232 Q655,231 664,230 M611.5,230.5 Q620,230 630,231.5 Q645,233 660,232.8 L667,233.5 M611.5,231 Q625,235 640,234.6 Q655,234.2 667,235.5 M650,227 L662,227 M651,233.6 Q657,236 664,235 M664,228 L664,233 M656,226.5 L656,230" fill="none" stroke="#e14a4a" stroke-width="0.55"/>
<rect x="626" y="248" width="23" height="9.2" fill="url(#neck)"/>
<path d="M617,258.8 Q617,256.8 621,256.8 L656.5,256.8 Q660.5,256.8 660.5,258.8 Q660.5,261 656.5,261 L621,261 Q617,261 617,258.8 Z" fill="url(#pbase)"/>
<text x="599.2" y="258.8" font-size="10" text-anchor="middle" fill="#1a1a1a" >PC</text>
<text x="599.5" y="279.8" font-size="9.9" text-anchor="middle" fill="#1a1a1a" >Local scattering spectrum</text>
<rect x="323" y="287.6" width="88" height="50.8" fill="#e0e1eb"/>
<rect x="323" y="298.4" width="88" height="29.2" fill="#0b8fd6"/>
<rect x="323" y="303.6" width="88" height="18" fill="#86cdf8"/>
<text x="292.5" y="297.2" font-size="9.9" text-anchor="middle" fill="#1a1a1a" >Bushing</text>
<text x="292.8" y="332" font-size="9.9" text-anchor="middle" fill="#1a1a1a" >Core</text>
<line x1="313" y1="294.5" x2="325" y2="300.5" stroke="#222" stroke-width="1" />
<line x1="306" y1="328.5" x2="325" y2="319" stroke="#222" stroke-width="1" />
<text x="433" y="301" font-size="9.9" text-anchor="middle" fill="#1a1a1a" >Light</text>
<text x="435" y="343" font-size="9.9" fill="#1a1a1a">CB/S<tspan font-size="7" dy="2">8</tspan></text>
<line x1="410" y1="334" x2="434" y2="339.5" stroke="#222" stroke-width="1" />
<defs><filter id="glow" x="-0.2" y="-1" width="1.4" height="3"><feGaussianBlur stdDeviation="0.9"/></filter></defs>
<path d="M399,305.7 L459.5,305.7 L459.5,302.9 L466.5,307.2 L459.5,311.5 L459.5,308.7 L399,308.7 Z" fill="none" stroke="#2f9be0" stroke-width="2.6" stroke-linejoin="round" filter="url(#glow)"/>
<path d="M399,305.7 L459.5,305.7 L459.5,302.9 L466.5,307.2 L459.5,311.5 L459.5,308.7 L399,308.7 Z" fill="#fff" stroke="#4aaee8" stroke-width="0.9" stroke-linejoin="round"/>
<path d="M466,315.5 L406.5,315.5 L406.5,312.7 L399.5,317 L406.5,321.3 L406.5,318.5 L466,318.5 Z" fill="none" stroke="#2f9be0" stroke-width="2.6" stroke-linejoin="round" filter="url(#glow)"/>
<path d="M466,315.5 L406.5,315.5 L406.5,312.7 L399.5,317 L406.5,321.3 L406.5,318.5 L466,318.5 Z" fill="#fff" stroke="#4aaee8" stroke-width="0.9" stroke-linejoin="round"/>
<defs><linearGradient id="rb" x1="0" x2="1" y1="0" y2="0">
<stop offset="0" stop-color="#7a2fb0"/><stop offset="0.15" stop-color="#2f5fc8"/><stop offset="0.35" stop-color="#1978a8"/>
<stop offset="0.5" stop-color="#0a9a70"/><stop offset="0.62" stop-color="#30b040"/><stop offset="0.72" stop-color="#c8e020"/>
<stop offset="0.8" stop-color="#ffe010"/><stop offset="0.9" stop-color="#ff8a10"/><stop offset="1" stop-color="#e81010"/></linearGradient>
<linearGradient id="rb2" x1="0" x2="1" y1="0" y2="0">
<stop offset="0" stop-color="#2f5fc8"/><stop offset="0.3" stop-color="#1978a8"/>
<stop offset="0.48" stop-color="#0a9a70"/><stop offset="0.58" stop-color="#30b040"/><stop offset="0.68" stop-color="#c8e020"/>
<stop offset="0.76" stop-color="#ffe010"/><stop offset="0.86" stop-color="#ff8a10"/><stop offset="1" stop-color="#e81010"/></linearGradient></defs>
<path d="M498,315 C500,305 504,298 509,296.4 C513,296 515,301.6 518,301.6 C521,301.6 522,293 526,293 C530,293 532,307 535,307 C538,307 539,299 541,299 C543,299 544,306 545.5,306 C548,306 550,294 554,294 C557,294 558,300 559.6,299.6 C560.5,297 561,297 562,297 C567,299 571,306 573,315 Z" fill="url(#rb)"/>
<path d="M505.6,339.6 C507,330 511,322 516,321.6 C520,321.6 522,326 525,326 C528,326 530,317.4 533,317.4 C537,317.4 540,331 543,331 C545.5,331 547,323 549,323 C552,323 553,330 555,330 C558,330 559,318.4 561,318.4 C563,318.4 564,325 566,325 C567,322 568,321.6 568.5,321.6 C573,324 577,331 580,339.6 Z" fill="url(#rb2)"/>
<path d="M494,340 L494,284" stroke="#111" stroke-width="1.3"/>
<path d="M494,280.5 L491.6,285.5 L496.4,285.5 Z" fill="#111"/>
<path d="M494,315 L582,315" stroke="#111" stroke-width="1.3"/>
<path d="M585.5,315 L580.5,312.6 L580.5,317.4 Z" fill="#111"/>
<path d="M493.4,339.6 L582,339.6" stroke="#111" stroke-width="1.3"/>
<path d="M585.5,339.6 L580.5,337.2 L580.5,342 Z" fill="#111"/>
<text transform="translate(487.5,311) rotate(-90)" font-size="9.9" text-anchor="middle" fill="#1a1a1a">Intensity</text>
<text x="537.6" y="349.8" font-size="10" text-anchor="middle" fill="#1a1a1a" >Wavelength</text>
<text x="644" y="305" font-size="9.9" text-anchor="middle" fill="#2a63a8" >Non-Strain</text>
<line x1="645.6" y1="308" x2="645.6" y2="324" stroke="#2a63a8" stroke-width="1.2" />
<path d="M645.6,328 L643.3,323 L647.9,323 Z" fill="#2a63a8"/>
<text x="645" y="337.8" font-size="9.9" text-anchor="middle" fill="#2a63a8" >Strain</text>
<text x="644.8" y="349.5" font-size="9.9" text-anchor="middle" fill="#1a1a1a" >Spectral shift</text>
<text x="-0.5" y="376" font-size="16.5" text-anchor="start" fill="#1a1a1a" >e</text>
<path d="M36,495.4 L36,372.4 L185.6,372.4 L185.6,495.4 Z" fill="none" stroke="#3c3c3c" stroke-width="1"/>
<line x1="33" y1="454.37" x2="36" y2="454.37" stroke="#3c3c3c" stroke-width="1" />
<text x="30" y="458.37" font-size="11" text-anchor="end" fill="#1a1a1a" >1</text>
<line x1="33" y1="413.34" x2="36" y2="413.34" stroke="#3c3c3c" stroke-width="1" />
<text x="30" y="417.34" font-size="11" text-anchor="end" fill="#1a1a1a" >2</text>
<line x1="33" y1="372.30999999999995" x2="36" y2="372.30999999999995" stroke="#3c3c3c" stroke-width="1" />
<text x="30" y="376.30999999999995" font-size="11" text-anchor="end" fill="#1a1a1a" >3</text>
<line x1="34" y1="474.885" x2="36" y2="474.885" stroke="#3c3c3c" stroke-width="1" />
<line x1="34" y1="433.85499999999996" x2="36" y2="433.85499999999996" stroke="#3c3c3c" stroke-width="1" />
<line x1="34" y1="392.825" x2="36" y2="392.825" stroke="#3c3c3c" stroke-width="1" />
<line x1="185.6" y1="372.4" x2="188.6" y2="372.4" stroke="#3c3c3c" stroke-width="1" />
<text x="190.1" y="376.4" font-size="11" text-anchor="start" fill="#1a1a1a" >400</text>
<line x1="185.6" y1="403.0" x2="188.6" y2="403.0" stroke="#3c3c3c" stroke-width="1" />
<text x="190.1" y="407.0" font-size="11" text-anchor="start" fill="#1a1a1a" >300</text>
<line x1="185.6" y1="433.59999999999997" x2="188.6" y2="433.59999999999997" stroke="#3c3c3c" stroke-width="1" />
<text x="190.1" y="437.59999999999997" font-size="11" text-anchor="start" fill="#1a1a1a" >200</text>
<line x1="185.6" y1="464.2" x2="188.6" y2="464.2" stroke="#3c3c3c" stroke-width="1" />
<text x="190.1" y="468.2" font-size="11" text-anchor="start" fill="#1a1a1a" >100</text>
<line x1="185.6" y1="387.7" x2="187.6" y2="387.7" stroke="#3c3c3c" stroke-width="1" />
<line x1="185.6" y1="418.29999999999995" x2="187.6" y2="418.29999999999995" stroke="#3c3c3c" stroke-width="1" />
<line x1="185.6" y1="448.9" x2="187.6" y2="448.9" stroke="#3c3c3c" stroke-width="1" />
<line x1="185.6" y1="479.5" x2="187.6" y2="479.5" stroke="#3c3c3c" stroke-width="1" />
<line x1="36" y1="495.4" x2="36" y2="498.4" stroke="#3c3c3c" stroke-width="1" />
<line x1="69.6" y1="495.4" x2="69.6" y2="498.4" stroke="#3c3c3c" stroke-width="1" />
<line x1="110.4" y1="495.4" x2="110.4" y2="498.4" stroke="#3c3c3c" stroke-width="1" />
<line x1="147" y1="495.4" x2="147" y2="498.4" stroke="#3c3c3c" stroke-width="1" />
<line x1="185.6" y1="495.4" x2="185.6" y2="498.4" stroke="#3c3c3c" stroke-width="1" />
<line x1="52.8" y1="495.4" x2="52.8" y2="497.4" stroke="#3c3c3c" stroke-width="1" />
<line x1="90.0" y1="495.4" x2="90.0" y2="497.4" stroke="#3c3c3c" stroke-width="1" />
<line x1="128.7" y1="495.4" x2="128.7" y2="497.4" stroke="#3c3c3c" stroke-width="1" />
<line x1="166.3" y1="495.4" x2="166.3" y2="497.4" stroke="#3c3c3c" stroke-width="1" />
<text x="36" y="509.8" font-size="11" text-anchor="middle" fill="#1a1a1a" >100</text>
<text x="69.6" y="509.8" font-size="11" text-anchor="middle" fill="#1a1a1a" >0</text>
<text x="110.4" y="509.8" font-size="11" text-anchor="middle" fill="#1a1a1a" >100</text>
<text x="147" y="509.8" font-size="11" text-anchor="middle" fill="#1a1a1a" >0</text>
<text x="185.6" y="509.8" font-size="11" text-anchor="middle" fill="#1a1a1a" >100</text>
<text x="43.6" y="389.6" font-size="10" text-anchor="start" fill="#c4306a" >I-PAM</text>
<text transform="translate(18.8,437) rotate(-90)" font-size="11" text-anchor="middle" fill="#1a1a1a">Voltage (V)</text>
<text transform="translate(222.5,435.5) rotate(-90)" font-size="11" text-anchor="middle" fill="#1a1a1a">Strain (με)</text>
<path d="M58,414 L58,419 L44,419" fill="none" stroke="#111" stroke-width="1.3"/>
<path d="M39.5,419 L45,416.2 L45,421.8 Z" fill="#111"/>
<text x="240.6" y="376" font-size="16.5" text-anchor="start" fill="#1a1a1a" >f</text>
<path d="M265.6,495.4 L265.6,374 L415.6,374 L415.6,495.4 Z" fill="none" stroke="#3c3c3c" stroke-width="1"/>
<line x1="262.6" y1="454.29999999999995" x2="265.6" y2="454.29999999999995" stroke="#3c3c3c" stroke-width="1" />
<text x="259.6" y="458.29999999999995" font-size="11" text-anchor="end" fill="#1a1a1a" >1</text>
<line x1="262.6" y1="414.2" x2="265.6" y2="414.2" stroke="#3c3c3c" stroke-width="1" />
<text x="259.6" y="418.2" font-size="11" text-anchor="end" fill="#1a1a1a" >2</text>
<line x1="262.6" y1="374.09999999999997" x2="265.6" y2="374.09999999999997" stroke="#3c3c3c" stroke-width="1" />
<text x="259.6" y="378.09999999999997" font-size="11" text-anchor="end" fill="#1a1a1a" >3</text>
<line x1="263.6" y1="474.34999999999997" x2="265.6" y2="474.34999999999997" stroke="#3c3c3c" stroke-width="1" />
<line x1="263.6" y1="434.25" x2="265.6" y2="434.25" stroke="#3c3c3c" stroke-width="1" />
<line x1="263.6" y1="394.15" x2="265.6" y2="394.15" stroke="#3c3c3c" stroke-width="1" />
<text x="259.6" y="499.4" font-size="11" text-anchor="end" fill="#1a1a1a" >0</text>
<line x1="415.6" y1="374.0" x2="418.6" y2="374.0" stroke="#3c3c3c" stroke-width="1" />
<text x="420.1" y="378.0" font-size="11" text-anchor="start" fill="#1a1a1a" >400</text>
<line x1="415.6" y1="402.5" x2="418.6" y2="402.5" stroke="#3c3c3c" stroke-width="1" />
<text x="420.1" y="406.5" font-size="11" text-anchor="start" fill="#1a1a1a" >300</text>
<line x1="415.6" y1="431.0" x2="418.6" y2="431.0" stroke="#3c3c3c" stroke-width="1" />
<text x="420.1" y="435.0" font-size="11" text-anchor="start" fill="#1a1a1a" >200</text>
<line x1="415.6" y1="459.5" x2="418.6" y2="459.5" stroke="#3c3c3c" stroke-width="1" />
<text x="420.1" y="463.5" font-size="11" text-anchor="start" fill="#1a1a1a" >100</text>
<line x1="415.6" y1="488.0" x2="418.6" y2="488.0" stroke="#3c3c3c" stroke-width="1" />
<text x="420.1" y="492.0" font-size="11" text-anchor="start" fill="#1a1a1a" >0</text>
<line x1="415.6" y1="388.25" x2="417.6" y2="388.25" stroke="#3c3c3c" stroke-width="1" />
<line x1="415.6" y1="416.75" x2="417.6" y2="416.75" stroke="#3c3c3c" stroke-width="1" />
<line x1="415.6" y1="445.25" x2="417.6" y2="445.25" stroke="#3c3c3c" stroke-width="1" />
<line x1="415.6" y1="473.75" x2="417.6" y2="473.75" stroke="#3c3c3c" stroke-width="1" />
<line x1="265.6" y1="495.4" x2="265.6" y2="498.4" stroke="#3c3c3c" stroke-width="1" />
<line x1="300.6" y1="495.4" x2="300.6" y2="498.4" stroke="#3c3c3c" stroke-width="1" />
<line x1="341" y1="495.4" x2="341" y2="498.4" stroke="#3c3c3c" stroke-width="1" />
<line x1="376" y1="495.4" x2="376" y2="498.4" stroke="#3c3c3c" stroke-width="1" />
<line x1="415.6" y1="495.4" x2="415.6" y2="498.4" stroke="#3c3c3c" stroke-width="1" />
<line x1="283.1" y1="495.4" x2="283.1" y2="497.4" stroke="#3c3c3c" stroke-width="1" />
<line x1="320.8" y1="495.4" x2="320.8" y2="497.4" stroke="#3c3c3c" stroke-width="1" />
<line x1="358.5" y1="495.4" x2="358.5" y2="497.4" stroke="#3c3c3c" stroke-width="1" />
<line x1="395.8" y1="495.4" x2="395.8" y2="497.4" stroke="#3c3c3c" stroke-width="1" />
<text x="265.6" y="509.8" font-size="11" text-anchor="middle" fill="#1a1a1a" >100</text>
<text x="300.6" y="509.8" font-size="11" text-anchor="middle" fill="#1a1a1a" >0</text>
<text x="341" y="509.8" font-size="11" text-anchor="middle" fill="#1a1a1a" >100</text>
<text x="376" y="509.8" font-size="11" text-anchor="middle" fill="#1a1a1a" >0</text>
<text x="415.6" y="509.8" font-size="11" text-anchor="middle" fill="#1a1a1a" >100</text>
<text x="274.6" y="389" font-size="10" text-anchor="start" fill="#2a9be6" >C-PAM</text>
<text transform="translate(248.6,437) rotate(-90)" font-size="11" text-anchor="middle" fill="#1a1a1a">Voltage (V)</text>
<text transform="translate(453,435.5) rotate(-90)" font-size="11" text-anchor="middle" fill="#1a1a1a">Strain (με)</text>
<path d="M288.6,414 L288.6,419 L274.6,419" fill="none" stroke="#111" stroke-width="1.3"/>
<path d="M270.1,419 L275.6,416.2 L275.6,421.8 Z" fill="#111"/>
<text x="467" y="376" font-size="16.5" text-anchor="start" fill="#1a1a1a" >g</text>
<path d="M494.6,495.4 L494.6,372.4 L644.3,372.4 L644.3,495.4 Z" fill="none" stroke="#3c3c3c" stroke-width="1"/>
<line x1="491.6" y1="454.2" x2="494.6" y2="454.2" stroke="#3c3c3c" stroke-width="1" />
<text x="488.6" y="458.2" font-size="11" text-anchor="end" fill="#1a1a1a" >1</text>
<line x1="491.6" y1="413.4" x2="494.6" y2="413.4" stroke="#3c3c3c" stroke-width="1" />
<text x="488.6" y="417.4" font-size="11" text-anchor="end" fill="#1a1a1a" >2</text>
<line x1="491.6" y1="372.6" x2="494.6" y2="372.6" stroke="#3c3c3c" stroke-width="1" />
<text x="488.6" y="376.6" font-size="11" text-anchor="end" fill="#1a1a1a" >3</text>
<line x1="492.6" y1="474.6" x2="494.6" y2="474.6" stroke="#3c3c3c" stroke-width="1" />
<line x1="492.6" y1="433.8" x2="494.6" y2="433.8" stroke="#3c3c3c" stroke-width="1" />
<line x1="492.6" y1="393.0" x2="494.6" y2="393.0" stroke="#3c3c3c" stroke-width="1" />
<line x1="644.3" y1="372.4" x2="647.3" y2="372.4" stroke="#3c3c3c" stroke-width="1" />
<text x="648.8" y="376.4" font-size="11" text-anchor="start" fill="#1a1a1a" >400</text>
<line x1="644.3" y1="402.95" x2="647.3" y2="402.95" stroke="#3c3c3c" stroke-width="1" />
<text x="648.8" y="406.95" font-size="11" text-anchor="start" fill="#1a1a1a" >300</text>
<line x1="644.3" y1="433.5" x2="647.3" y2="433.5" stroke="#3c3c3c" stroke-width="1" />
<text x="648.8" y="437.5" font-size="11" text-anchor="start" fill="#1a1a1a" >200</text>
<line x1="644.3" y1="464.04999999999995" x2="647.3" y2="464.04999999999995" stroke="#3c3c3c" stroke-width="1" />
<text x="648.8" y="468.04999999999995" font-size="11" text-anchor="start" fill="#1a1a1a" >100</text>
<line x1="644.3" y1="387.67499999999995" x2="646.3" y2="387.67499999999995" stroke="#3c3c3c" stroke-width="1" />
<line x1="644.3" y1="418.22499999999997" x2="646.3" y2="418.22499999999997" stroke="#3c3c3c" stroke-width="1" />
<line x1="644.3" y1="448.775" x2="646.3" y2="448.775" stroke="#3c3c3c" stroke-width="1" />
<line x1="644.3" y1="479.325" x2="646.3" y2="479.325" stroke="#3c3c3c" stroke-width="1" />
<line x1="494.6" y1="495.4" x2="494.6" y2="498.4" stroke="#3c3c3c" stroke-width="1" />
<line x1="540" y1="495.4" x2="540" y2="498.4" stroke="#3c3c3c" stroke-width="1" />
<line x1="579.2" y1="495.4" x2="579.2" y2="498.4" stroke="#3c3c3c" stroke-width="1" />
<line x1="611.6" y1="495.4" x2="611.6" y2="498.4" stroke="#3c3c3c" stroke-width="1" />
<line x1="644.3" y1="495.4" x2="644.3" y2="498.4" stroke="#3c3c3c" stroke-width="1" />
<line x1="517.3" y1="495.4" x2="517.3" y2="497.4" stroke="#3c3c3c" stroke-width="1" />
<line x1="559.6" y1="495.4" x2="559.6" y2="497.4" stroke="#3c3c3c" stroke-width="1" />
<line x1="595.4000000000001" y1="495.4" x2="595.4000000000001" y2="497.4" stroke="#3c3c3c" stroke-width="1" />
<line x1="627.95" y1="495.4" x2="627.95" y2="497.4" stroke="#3c3c3c" stroke-width="1" />
<text x="494.6" y="509.8" font-size="11" text-anchor="middle" fill="#1a1a1a" >100</text>
<text x="540" y="509.8" font-size="11" text-anchor="middle" fill="#1a1a1a" >0</text>
<text x="579.2" y="509.8" font-size="11" text-anchor="middle" fill="#1a1a1a" >100</text>
<text x="611.6" y="509.8" font-size="11" text-anchor="middle" fill="#1a1a1a" >0</text>
<text x="644.3" y="509.8" font-size="11" text-anchor="middle" fill="#1a1a1a" >100</text>
<text x="504.4" y="389.2" font-size="10" text-anchor="start" fill="#b24fe0" >LA133</text>
<text transform="translate(478.6,437) rotate(-90)" font-size="11" text-anchor="middle" fill="#1a1a1a">Voltage (V)</text>
<text transform="translate(683,435.5) rotate(-90)" font-size="11" text-anchor="middle" fill="#1a1a1a">Strain (με)</text>
<path d="M519,414 L519,419 L505,419" fill="none" stroke="#111" stroke-width="1.3"/>
<path d="M500.5,419 L506,416.2 L506,421.8 Z" fill="#111"/>
<path d="M36.0,398.5 L36.3,398.5 L37.0,399.0 L40.0,400.5 L42.7,404.5 L44.7,410.2 L47.8,409.9 L54.5,410.2 L61.2,410.8 L64.6,412.0 L66.9,414.7 L68.3,418.2 L69.1,426.5 L70.0,404.0 L74.5,403.7 L81.8,403.0 L90.0,401.5 L96.1,399.2 L102.2,397.8 L107.5,397.0 L109.8,395.5 L110.4,379.6 L110.7,399.5 L111.8,399.0 L115.1,400.5 L118.0,404.5 L120.1,410.2 L123.4,409.9 L130.7,410.2 L137.9,410.8 L141.6,412.0 L144.1,414.7 L145.5,418.2 L146.5,426.5 L147.4,404.0 L151.6,403.7 L158.6,403.0 L166.3,401.5 L172.1,399.2 L177.9,397.8 L182.9,397.0 L185.0,395.5 L185.6,379.6" fill="none" stroke="#404040" stroke-width="1.2" stroke-linejoin="round" stroke-linecap="round" />
<path d="M265.6,378.5 L265.9,399.6 L266.7,400.1 L269.8,401.6 L272.6,405.6 L274.7,411.8 L277.9,411.5 L284.9,411.8 L291.9,412.4 L295.4,413.6 L297.8,416.3 L299.2,419.8 L300.1,428.0 L301.0,404.5 L305.4,404.2 L312.7,403.5 L320.8,402.0 L326.9,399.7 L332.9,398.3 L338.2,397.5 L340.4,396.0 L341.0,378.5 L341.3,400.6 L342.3,400.1 L345.5,401.6 L348.2,405.6 L350.3,411.8 L353.4,411.5 L360.4,411.8 L367.3,412.4 L370.8,413.6 L373.2,416.3 L374.6,419.8 L375.5,428.0 L376.4,404.5 L380.8,404.2 L387.9,403.5 L395.8,402.0 L401.7,399.7 L407.7,398.3 L412.8,397.5 L415.0,396.0 L415.6,378.5" fill="none" stroke="#404040" stroke-width="1.2" stroke-linejoin="round" stroke-linecap="round" />
<path d="M494.6,385.0 L494.9,398.5 L496.0,399.0 L500.0,400.5 L503.7,404.5 L506.4,410.6 L510.5,410.3 L519.6,410.6 L528.6,411.2 L533.2,412.4 L536.4,415.1 L538.2,418.6 L539.3,427.5 L540.4,404.0 L544.7,403.7 L551.8,403.0 L559.6,401.5 L565.5,399.2 L571.4,397.8 L576.5,397.0 L578.6,395.5 L579.2,381.0 L579.5,399.5 L580.5,399.0 L583.4,400.5 L585.9,404.5 L587.8,410.6 L590.7,410.3 L597.2,410.6 L603.6,411.2 L606.8,412.4 L609.0,415.1 L610.3,418.6 L611.1,427.5 L611.9,404.0 L615.5,403.7 L621.4,403.0 L628.0,401.5 L632.9,399.2 L637.8,397.8 L642.0,397.0 L643.8,395.5 L644.3,381.0" fill="none" stroke="#404040" stroke-width="1.2" stroke-linejoin="round" stroke-linecap="round" />
<path d="M39.2,497.0 C40.0,496.4 42.5,494.4 44.0,493.5 C45.5,492.6 46.7,492.2 48.0,491.6 C49.3,491.0 50.7,490.7 52.0,490.0 C53.3,489.3 54.7,488.3 56.0,487.5 C57.3,486.7 58.5,485.8 60.0,485.2 C61.5,484.6 63.5,484.1 65.0,483.8 C66.5,483.5 67.7,483.6 69.0,483.6 C70.3,483.6 71.8,483.8 73.0,484.0 C74.2,484.2 74.8,484.2 76.0,484.6 C77.2,485.0 78.7,485.8 80.0,486.5 C81.3,487.2 82.5,488.1 84.0,489.0 C85.5,489.9 87.3,491.0 89.0,491.8 C90.7,492.6 92.2,493.3 94.0,493.6 C95.8,493.9 98.2,493.8 100.0,493.6 C101.8,493.4 103.3,492.6 105.0,492.2 C106.7,491.8 108.5,491.3 110.0,491.0 C111.5,490.7 112.7,490.6 114.0,490.6 C115.3,490.6 116.7,490.8 118.0,490.9 C119.3,491.0 120.5,491.3 122.0,491.0 C123.5,490.7 125.5,489.7 127.0,489.0 C128.5,488.3 129.7,487.7 131.0,487.0 C132.3,486.3 133.7,485.2 135.0,484.6 C136.3,484.0 137.7,483.7 139.0,483.5 C140.3,483.3 141.7,483.5 143.0,483.6 C144.3,483.7 145.7,483.8 147.0,484.0 C148.3,484.2 149.7,484.6 151.0,484.8 C152.3,485.0 153.5,485.1 155.0,485.4 C156.5,485.7 158.3,485.9 160.0,486.4 C161.7,486.9 163.3,487.6 165.0,488.2 C166.7,488.8 168.3,489.6 170.0,490.0 C171.7,490.4 173.3,490.6 175.0,490.4 C176.7,490.2 178.2,489.7 180.0,489.0 C181.8,488.3 184.7,486.5 185.6,486.0" fill="none" stroke="#c4306a" stroke-width="1.3" stroke-linejoin="round" stroke-linecap="round" />
<path d="M265.6,490.9 L267.1,491.0 L268.5,491.5 L270.0,491.3 L271.2,491.7 L272.5,491.7 L273.8,491.6 L275.0,492.0 L276.2,491.5 L277.5,491.7 L278.8,491.2 L280.0,491.1 L281.2,491.2 L282.5,491.4 L283.8,490.8 L285.0,490.8 L286.2,490.8 L287.5,490.8 L288.8,490.3 L290.0,489.9 L291.5,489.6 L293.0,488.2 L294.5,487.0 L296.0,484.9 L298.0,479.8 L299.5,473.7 L300.3,471.5 L301.5,472.7 L303.0,475.8 L304.5,478.6 L306.0,481.1 L307.5,483.2 L309.0,485.5 L310.3,486.4 L311.7,487.5 L313.0,488.8 L314.3,489.8 L315.7,490.3 L317.0,490.9 L318.5,491.4 L320.0,491.6 L321.2,491.6 L322.5,492.0 L323.8,492.0 L325.0,491.8 L326.2,492.2 L327.5,492.2 L328.8,492.6 L330.0,492.6 L331.2,492.4 L332.5,492.9 L333.8,492.4 L335.0,492.7 L336.2,492.4 L337.5,491.5 L338.8,491.1 L340.0,490.3 L341.2,490.4 L342.5,490.2 L343.8,489.8 L345.0,489.7 L346.2,489.4 L347.5,489.7 L348.8,489.8 L350.0,489.9 L351.2,489.7 L352.5,489.9 L353.8,490.0 L355.0,489.6 L356.2,489.3 L357.5,488.5 L358.8,488.5 L360.0,488.1 L361.3,487.3 L362.7,486.2 L364.0,484.8 L365.3,483.3 L366.7,481.8 L368.0,479.7 L369.5,477.5 L371.0,474.8 L372.2,472.5 L373.5,470.2 L375.0,470.4 L377.0,472.7 L378.5,475.1 L380.0,477.4 L381.3,479.6 L382.7,480.9 L384.0,483.0 L385.3,484.7 L386.7,486.6 L388.0,488.2 L389.3,489.1 L390.7,489.6 L392.0,490.5 L393.2,490.7 L394.5,491.2 L395.8,491.4 L397.0,491.0 L398.2,491.1 L399.5,491.2 L400.8,491.3 L402.0,491.6 L403.2,491.8 L404.5,491.6 L405.8,491.6 L407.0,491.9 L408.3,491.6 L409.7,491.4 L411.0,491.3 L412.5,490.1 L414.1,489.0 L415.6,488.0" fill="none" stroke="#4a8fe3" stroke-width="1.3" stroke-linejoin="round" stroke-linecap="round" />
<path d="M494.6,495.0 C494.9,494.3 495.9,492.0 496.5,491.0 C497.1,490.0 497.6,489.1 498.5,488.8 C499.4,488.5 500.9,489.3 502.0,489.4 C503.1,489.5 504.0,489.5 505.0,489.4 C506.0,489.3 506.8,488.9 508.0,488.8 C509.2,488.7 510.7,488.6 512.0,488.6 C513.3,488.6 514.7,489.2 516.0,488.8 C517.3,488.4 518.7,487.7 520.0,486.5 C521.3,485.3 522.7,483.2 524.0,481.5 C525.3,479.8 526.7,477.7 528.0,476.0 C529.3,474.3 530.9,473.0 532.0,471.5 C533.1,470.0 533.7,468.8 534.5,467.0 C535.3,465.2 536.2,462.4 537.0,460.5 C537.8,458.6 538.8,456.4 539.5,455.6 C540.2,454.9 540.8,455.4 541.5,456.0 C542.2,456.6 543.0,457.9 544.0,459.5 C545.0,461.1 546.3,463.2 547.5,465.5 C548.7,467.8 549.8,470.4 551.0,473.0 C552.2,475.6 553.7,478.8 555.0,481.0 C556.3,483.2 557.5,484.9 559.0,486.5 C560.5,488.1 562.2,489.8 564.0,490.6 C565.8,491.4 568.2,491.5 570.0,491.4 C571.8,491.3 573.5,490.5 575.0,490.2 C576.5,489.9 577.7,489.2 579.0,489.3 C580.3,489.4 581.7,490.1 583.0,490.6 C584.3,491.1 585.8,491.9 587.0,492.2 C588.2,492.5 588.8,492.8 590.0,492.4 C591.2,492.0 592.7,491.4 594.0,490.0 C595.3,488.6 596.7,486.7 598.0,484.0 C599.3,481.3 600.7,477.5 602.0,474.0 C603.3,470.5 604.8,465.8 606.0,463.0 C607.2,460.2 608.6,458.2 609.5,457.0 C610.4,455.8 610.9,455.6 611.6,455.6 C612.4,455.6 613.1,455.9 614.0,457.0 C614.9,458.1 616.0,459.8 617.0,462.0 C618.0,464.2 618.8,467.0 620.0,470.0 C621.2,473.0 622.7,477.2 624.0,480.0 C625.3,482.8 626.7,485.6 628.0,487.0 C629.3,488.4 630.7,488.4 632.0,488.7 C633.3,488.9 634.7,488.6 636.0,488.5 C637.3,488.4 638.6,488.2 640.0,488.2 C641.4,488.2 643.6,488.6 644.3,488.7" fill="none" stroke="#b24fe0" stroke-width="1.3" stroke-linejoin="round" stroke-linecap="round" />
<text x="108" y="525.5" font-size="11" text-anchor="middle" fill="#1a1a1a" >SOC (%)</text>
<text x="338" y="525.5" font-size="11" text-anchor="middle" fill="#1a1a1a" >SOC (%)</text>
<text x="569.2" y="525.5" font-size="11" text-anchor="middle" fill="#1a1a1a" >SOC (%)</text>
<text x="-0.6" y="542" font-size="16.5" text-anchor="start" fill="#1a1a1a" >h</text>
<defs>
<filter id="gd" x="0" y="0" width="1" height="1" color-interpolation-filters="sRGB">
 <feTurbulence type="fractalNoise" baseFrequency="0.5" numOctaves="2" seed="4"/>
 <feColorMatrix type="matrix" values="1.8 0 0 0 -0.4  1.8 0 0 0 -0.4  1.8 0 0 0 -0.4  0 0 0 0 0.26"/>
 <feGaussianBlur stdDeviation="0.4"/>
</filter>
<filter id="gb" x="0" y="0" width="1" height="1" color-interpolation-filters="sRGB">
 <feTurbulence type="fractalNoise" baseFrequency="0.06 0.1" numOctaves="4" seed="12"/>
 <feColorMatrix type="matrix" values="0 0 0 0 0  0 0 0 0 0  0 0 0 0 0  0 0 -2.6 0 1.12"/>
</filter>
<filter id="gl" x="0" y="0" width="1" height="1" color-interpolation-filters="sRGB">
 <feTurbulence type="fractalNoise" baseFrequency="0.08" numOctaves="3" seed="21"/>
 <feColorMatrix type="matrix" values="0 0 0 0 1  0 0 0 0 1  0 0 0 0 1  0 2.2 0 0 -1.15"/>
</filter>
<filter id="gp" x="0" y="0" width="1" height="1" color-interpolation-filters="sRGB">
 <feTurbulence type="fractalNoise" baseFrequency="0.3" numOctaves="2" seed="31"/>
 <feColorMatrix type="matrix" values="0 0 0 0 0  0 0 0 0 0  0 0 0 0 0  -7 0 0 0 2.3"/>
</filter>
<filter id="cblur" x="-0.2" y="-0.5" width="1.4" height="2"><feGaussianBlur stdDeviation="0.8"/></filter>
<linearGradient id="haze" x1="0" x2="0" y1="0" y2="1"><stop offset="0" stop-color="#5a5a5a" stop-opacity="0"/><stop offset="0.75" stop-color="#5e5e5e" stop-opacity="0.55"/><stop offset="1" stop-color="#6a6a6a" stop-opacity="0.3"/></linearGradient>
<linearGradient id="dk" x1="0" x2="0" y1="0" y2="1">
 <stop offset="0" stop-color="#222"/><stop offset="0.5" stop-color="#2a2a2a"/><stop offset="0.85" stop-color="#363636"/><stop offset="1" stop-color="#444"/>
</linearGradient>
<linearGradient id="dka" x1="0" x2="0" y1="0" y2="1">
 <stop offset="0" stop-color="#151515"/><stop offset="0.6" stop-color="#1b1b1b"/><stop offset="1" stop-color="#262626"/>
</linearGradient>
<linearGradient id="dk2" x1="0" x2="0" y1="0" y2="1">
 <stop offset="0" stop-color="#262626"/><stop offset="0.5" stop-color="#303030"/><stop offset="0.85" stop-color="#3c3c3c"/><stop offset="1" stop-color="#4a4a4a"/>
</linearGradient>
<linearGradient id="gy" x1="0" x2="0" y1="0" y2="1">
 <stop offset="0" stop-color="#8c8c8c"/><stop offset="0.5" stop-color="#828282"/><stop offset="0.82" stop-color="#7a7a7a"/><stop offset="0.86" stop-color="#585858"/><stop offset="1" stop-color="#525252"/>
</linearGradient>
<linearGradient id="gy2" x1="0" x2="0" y1="0" y2="1">
 <stop offset="0" stop-color="#a0a0a0"/><stop offset="0.5" stop-color="#929292"/><stop offset="0.84" stop-color="#858585"/><stop offset="0.88" stop-color="#666"/><stop offset="1" stop-color="#5e5e5e"/>
</linearGradient>
</defs>
<rect x="12.3" y="538.3" width="217.5" height="20.40000000000009" fill="#e6bccb"/>
<text x="121.65" y="552.8" font-size="10.75" text-anchor="middle" fill="#4a4a4a" >I-PAM before (L) and after 100 cycles (R)</text>
<rect x="238" y="538.3" width="217.10000000000002" height="20.40000000000009" fill="#b4e1f7"/>
<text x="347.15000000000003" y="552.8" font-size="10.75" text-anchor="middle" fill="#4a4a4a" >C-PAM before (L) and after 100 cycles (R)</text>
<rect x="462.5" y="538.3" width="217.39999999999998" height="20.40000000000009" fill="#e5c9f1"/>
<text x="571.8000000000001" y="552.8" font-size="10.75" text-anchor="middle" fill="#4a4a4a" >LA133 before (L) and after 100 cycles (R)</text>
<rect x="12.3" y="558.7" width="108.7" height="32.59999999999991" fill="url(#dk)"/>
<clipPath id="c1"><path d="M12.3,645.7 L12.3,588.2 L14.1,589.1 L15.8,588.3 L17.7,587.7 L19.5,588.6 L21.7,587.5 L23.1,587.5 L25.3,588.7 L26.4,589.3 L28.9,588.6 L30.8,587.6 L31.8,588.4 L32.9,587.7 L34.3,587.4 L36.0,588.2 L38.2,588.3 L40.2,588.3 L42.2,588.2 L43.6,589.3 L46.1,589.0 L48.1,587.9 L49.5,587.9 L50.6,588.8 L52.2,589.0 L53.8,589.2 L56.0,587.3 L57.4,589.1 L59.1,589.3 L60.7,587.4 L62.6,588.9 L64.0,587.5 L65.5,589.2 L67.6,587.5 L69.0,587.5 L70.1,588.9 L71.4,588.4 L73.0,587.7 L75.1,587.6 L77.1,587.5 L78.7,587.7 L80.1,589.2 L82.3,587.9 L84.7,587.7 L86.3,589.0 L88.2,587.5 L90.7,587.7 L92.1,588.8 L93.6,587.9 L94.7,587.5 L96.6,587.8 L98.5,588.0 L100.2,589.2 L101.9,588.4 L104.2,587.7 L105.4,589.1 L107.6,587.8 L108.9,588.8 L111.3,587.7 L113.8,589.1 L115.7,588.1 L116.8,587.4 L119.3,587.8 L121.0,587.8 L121.0,645.7 Z"/></clipPath>
<g clip-path="url(#c1)">
<rect x="12.3" y="584.3" width="108.7" height="61.40000000000009" fill="url(#gy)"/>
<rect x="12.3" y="584.3" width="108.7" height="61.40000000000009" filter="url(#gb)"/>
<rect x="12.3" y="584.3" width="108.7" height="61.40000000000009" filter="url(#gl)"/>
<rect x="12.3" y="584.3" width="108.7" height="61.40000000000009" filter="url(#gd)"/>
<path d="M66.0,617.4 L68.5,617.4 L71.0,616.3 L73.5,614.5 L76.0,612.9 L78.5,612.2 L81.0,611.7 L83.5,610.7 L86.0,610.7 L88.5,610.0 L91.0,608.1 L93.5,606.1" fill="none" stroke="#1e1e1e" stroke-width="2.3" opacity="0.45" stroke-linecap="round" filter="url(#cblur)"/>
<path d="M16.2,602.5 L18.7,601.7 L21.2,600.6 L23.7,600.4 L26.2,601.5 L28.7,602.9 L31.2,604.8 L33.7,606.8 L36.2,607.9 L38.7,607.9 L41.2,606.6 L43.7,606.4 L46.2,606.6" fill="none" stroke="#1e1e1e" stroke-width="3.0" opacity="0.45" stroke-linecap="round" filter="url(#cblur)"/>
<path d="M13.7,618.8 L16.2,618.8 L18.7,620.0 L21.2,620.1 L23.7,620.4 L26.2,621.2 L28.7,623.1 L31.2,625.1 L33.7,627.1 L36.2,629.1 L38.7,631.1 L41.2,632.7 L43.7,634.7 L46.2,636.7" fill="none" stroke="#1e1e1e" stroke-width="2.8" opacity="0.45" stroke-linecap="round" filter="url(#cblur)"/>
<path d="M39.5,624.3 L42.0,624.7 L44.5,624.9 L47.0,625.2 L49.5,625.8 L52.0,625.4 L54.5,625.3 L57.0,626.5 L59.5,628.5 L62.0,630.5 L64.5,632.2 L67.0,634.2 L69.5,636.2 L72.0,638.1 L74.5,640.1 L77.0,641.0 L79.5,642.6 L82.0,643.0" fill="none" stroke="#1e1e1e" stroke-width="2.5" opacity="0.45" stroke-linecap="round" filter="url(#cblur)"/>
<path d="M43.7,604.4 L46.2,604.7 L48.7,606.1 L51.2,606.8 L53.7,606.3 L56.2,605.3 L58.7,604.7 L61.2,603.4 L63.7,601.4 L66.2,600.5 L68.7,599.9 L71.2,599.1 L73.7,599.4 L76.2,599.2 L78.7,599.4 L81.2,598.9" fill="none" stroke="#1e1e1e" stroke-width="2.3" opacity="0.45" stroke-linecap="round" filter="url(#cblur)"/>
</g>
<rect x="12.3" y="581.3" width="108.7" height="9" fill="url(#haze)"/>
<rect x="121" y="558.7" width="108.80000000000001" height="31.59999999999991" fill="url(#dka)"/>
<clipPath id="c2"><path d="M121.0,645.7 L121.0,588.5 L123.4,588.8 L124.9,587.6 L126.4,585.8 L128.2,588.6 L130.4,588.1 L132.9,586.4 L134.1,587.1 L135.5,586.2 L137.2,587.8 L138.9,586.6 L141.2,589.2 L142.8,585.6 L143.9,588.8 L144.9,588.1 L146.8,586.5 L149.0,585.4 L150.2,587.1 L151.2,588.6 L152.6,585.9 L153.7,587.8 L155.3,587.8 L157.3,588.5 L159.7,588.0 L161.0,587.2 L162.3,585.3 L164.0,588.2 L165.3,586.4 L166.8,588.1 L168.6,587.8 L170.7,586.9 L172.9,588.9 L174.0,589.0 L176.1,585.8 L177.8,587.8 L180.2,586.8 L182.0,588.8 L184.2,589.1 L185.9,587.9 L187.2,588.2 L189.4,587.9 L191.5,586.2 L193.9,589.2 L196.3,587.4 L198.5,586.6 L200.9,588.7 L202.4,585.6 L204.1,587.5 L206.2,587.2 L207.3,588.5 L208.4,588.5 L209.6,586.6 L211.8,585.9 L213.0,587.4 L215.1,588.7 L217.1,589.1 L218.9,589.1 L220.0,586.2 L221.8,586.5 L223.9,587.9 L225.7,588.7 L227.5,586.5 L229.1,588.7 L229.8,586.1 L229.8,645.7 Z"/></clipPath>
<g clip-path="url(#c2)">
<rect x="121" y="583.3" width="108.80000000000001" height="62.40000000000009" fill="url(#gy)"/>
<rect x="121" y="583.3" width="108.80000000000001" height="62.40000000000009" filter="url(#gb)"/>
<rect x="121" y="583.3" width="108.80000000000001" height="62.40000000000009" filter="url(#gl)"/>
<rect x="121" y="583.3" width="108.80000000000001" height="62.40000000000009" filter="url(#gd)"/>
<path d="M176.5,630.6 L179.0,629.9 L181.5,629.4 L184.0,628.9 L186.5,628.6 L189.0,627.2 L191.5,626.9 L194.0,626.7 L196.5,626.2 L199.0,626.5 L201.5,626.9 L204.0,627.3 L206.5,628.2 L209.0,628.0 L211.5,627.9" fill="none" stroke="#1e1e1e" stroke-width="2.3" opacity="0.45" stroke-linecap="round" filter="url(#cblur)"/>
<path d="M183.5,628.9 L186.0,627.9 L188.5,626.8 L191.0,626.4 L193.5,627.1 L196.0,627.7 L198.5,627.8 L201.0,627.2 L203.5,626.8 L206.0,627.5 L208.5,627.3 L211.0,627.8" fill="none" stroke="#1e1e1e" stroke-width="1.8" opacity="0.45" stroke-linecap="round" filter="url(#cblur)"/>
<path d="M133.7,603.6 L136.2,602.9 L138.7,602.5 L141.2,601.2 L143.7,600.4 L146.2,598.7 L148.7,597.0 L151.2,595.0 L153.7,593.0 L156.2,591.0 L158.7,589.0 L161.2,587.0 L163.7,585.0 L166.2,583.1 L168.7,581.1 L171.2,579.1" fill="none" stroke="#1e1e1e" stroke-width="2.6" opacity="0.45" stroke-linecap="round" filter="url(#cblur)"/>
<path d="M162.7,614.6 L165.2,615.7 L167.7,616.1 L170.2,617.1 L172.7,618.9 L175.2,620.9 L177.7,622.4 L180.2,623.5 L182.7,625.5 L185.2,626.8 L187.7,628.8 L190.2,630.8 L192.7,631.9 L195.2,632.3 L197.7,633.3 L200.2,633.7 L202.7,633.1 L205.2,633.3" fill="none" stroke="#1e1e1e" stroke-width="2.3" opacity="0.45" stroke-linecap="round" filter="url(#cblur)"/>
<path d="M172.6,599.9 L175.1,599.0 L177.6,597.4 L180.1,596.2 L182.6,596.1 L185.1,597.1 L187.6,597.1 L190.1,597.2 L192.6,598.0 L195.1,598.7 L197.6,599.9 L200.1,600.3 L202.6,599.6 L205.1,598.0" fill="none" stroke="#1e1e1e" stroke-width="1.8" opacity="0.45" stroke-linecap="round" filter="url(#cblur)"/>
<rect x="121" y="583.3" width="108.80000000000001" height="62.40000000000009" filter="url(#gp)" opacity="0.8"/>
</g>
<rect x="238" y="558.7" width="107.69999999999999" height="31.799999999999955" fill="url(#dk)"/>
<clipPath id="c3"><path d="M238.0,645.7 L238.0,587.6 L239.8,587.6 L241.0,586.9 L242.3,588.2 L244.8,588.4 L245.9,586.6 L248.4,587.4 L250.5,587.2 L252.2,587.5 L253.8,587.7 L254.9,587.9 L257.1,586.9 L258.8,588.0 L260.4,586.9 L261.7,587.5 L262.7,588.3 L264.9,587.9 L267.2,587.8 L268.8,587.7 L270.5,588.5 L272.8,587.0 L275.1,588.0 L277.3,588.1 L278.9,588.3 L281.2,587.9 L283.4,588.0 L285.0,587.9 L286.1,587.2 L287.8,586.5 L289.3,587.8 L291.3,587.0 L293.7,587.8 L295.2,587.8 L297.0,587.6 L298.6,588.5 L300.6,587.9 L302.7,588.5 L303.8,587.7 L305.9,587.0 L307.5,586.6 L308.8,587.3 L309.9,587.0 L312.3,587.6 L314.0,588.4 L315.9,588.5 L317.8,588.1 L319.0,587.7 L321.1,586.6 L323.5,586.8 L325.2,586.8 L326.9,587.7 L328.0,588.4 L329.7,587.6 L331.6,587.2 L333.0,587.8 L334.8,587.1 L336.9,587.1 L337.9,587.0 L339.0,586.8 L341.1,587.3 L343.5,588.0 L344.5,588.5 L345.7,586.6 L345.7,645.7 Z"/></clipPath>
<g clip-path="url(#c3)">
<rect x="238" y="583.5" width="107.69999999999999" height="62.200000000000045" fill="url(#gy)"/>
<rect x="238" y="583.5" width="107.69999999999999" height="62.200000000000045" filter="url(#gb)"/>
<rect x="238" y="583.5" width="107.69999999999999" height="62.200000000000045" filter="url(#gl)"/>
<rect x="238" y="583.5" width="107.69999999999999" height="62.200000000000045" filter="url(#gd)"/>
<path d="M296.5,611.0 L299.0,611.2 L301.5,611.5 L304.0,612.8 L306.5,614.7 L309.0,616.5 L311.5,618.5 L314.0,620.5 L316.5,622.5 L319.0,623.6 L321.5,624.9 L324.0,626.2 L326.5,626.7 L329.0,626.0" fill="none" stroke="#1e1e1e" stroke-width="2.4" opacity="0.45" stroke-linecap="round" filter="url(#cblur)"/>
<path d="M246.0,611.5 L248.5,610.9 L251.0,610.4 L253.5,609.7 L256.0,609.8 L258.5,609.9 L261.0,611.2 L263.5,613.2 L266.0,615.2 L268.5,616.5 L271.0,616.9 L273.5,618.3 L276.0,620.3 L278.5,622.3 L281.0,623.9 L283.5,625.0" fill="none" stroke="#1e1e1e" stroke-width="2.6" opacity="0.45" stroke-linecap="round" filter="url(#cblur)"/>
<path d="M274.5,616.9 L277.0,616.6 L279.5,615.6 L282.0,615.9 L284.5,617.1 L287.0,619.1 L289.5,620.0 L292.0,619.7 L294.5,618.9 L297.0,617.9 L299.5,617.2 L302.0,615.5 L304.5,613.9 L307.0,611.9 L309.5,609.9 L312.0,608.4" fill="none" stroke="#1e1e1e" stroke-width="2.5" opacity="0.45" stroke-linecap="round" filter="url(#cblur)"/>
<path d="M278.8,609.0 L281.3,608.1 L283.8,607.8 L286.3,608.4 L288.8,607.9 L291.3,606.4 L293.8,605.8 L296.3,605.4 L298.8,605.7 L301.3,605.3 L303.8,604.7 L306.3,603.4 L308.8,603.0 L311.3,602.3" fill="none" stroke="#1e1e1e" stroke-width="2.6" opacity="0.45" stroke-linecap="round" filter="url(#cblur)"/>
<path d="M301.9,607.3 L304.4,608.8 L306.9,610.1 L309.4,611.0 L311.9,611.0 L314.4,611.9 L316.9,611.8 L319.4,610.6 L321.9,609.5 L324.4,608.5 L326.9,607.9 L329.4,606.8 L331.9,606.3 L334.4,604.9 L336.9,602.9" fill="none" stroke="#1e1e1e" stroke-width="2.6" opacity="0.45" stroke-linecap="round" filter="url(#cblur)"/>
</g>
<rect x="238" y="580.5" width="107.69999999999999" height="9" fill="url(#haze)"/>
<rect x="345.7" y="558.7" width="109.40000000000003" height="28.59999999999991" fill="url(#dka)"/>
<clipPath id="c4"><path d="M345.7,645.7 L345.7,582.6 L347.2,585.2 L349.2,583.4 L350.4,583.7 L352.5,583.8 L353.7,585.1 L355.5,586.0 L357.9,586.0 L359.6,585.5 L361.1,583.6 L362.7,586.0 L365.0,583.3 L366.5,583.8 L368.1,583.9 L369.7,583.1 L371.5,585.5 L373.3,585.6 L375.2,583.0 L377.3,585.8 L378.7,582.4 L380.5,584.5 L382.4,586.2 L384.3,585.5 L385.4,584.5 L387.6,582.6 L388.7,585.2 L391.1,582.6 L393.0,582.9 L395.1,584.9 L396.5,583.2 L398.7,584.4 L400.8,583.9 L402.3,586.2 L404.3,584.3 L406.1,585.2 L408.2,586.0 L409.8,585.6 L411.8,585.7 L414.0,585.6 L416.4,586.1 L418.3,584.4 L420.4,585.5 L422.0,584.0 L423.2,585.3 L425.7,583.8 L427.0,583.1 L428.6,583.5 L431.1,582.5 L432.5,582.8 L434.5,585.4 L435.8,582.5 L437.5,584.6 L439.8,582.4 L441.0,583.0 L442.3,583.2 L444.4,584.7 L445.7,583.0 L447.1,583.0 L449.3,583.5 L451.1,585.6 L452.8,583.3 L455.1,586.0 L455.1,645.7 Z"/></clipPath>
<g clip-path="url(#c4)">
<rect x="345.7" y="580.3" width="109.40000000000003" height="65.40000000000009" fill="url(#gy2)"/>
<rect x="345.7" y="580.3" width="109.40000000000003" height="65.40000000000009" filter="url(#gb)"/>
<rect x="345.7" y="580.3" width="109.40000000000003" height="65.40000000000009" filter="url(#gl)"/>
<rect x="345.7" y="580.3" width="109.40000000000003" height="65.40000000000009" filter="url(#gd)"/>
<path d="M368.2,613.9 L370.7,613.1 L373.2,611.3 L375.7,610.5 L378.2,610.6 L380.7,610.3 L383.2,610.1 L385.7,609.9 L388.2,609.2 L390.7,609.7 L393.2,610.6 L395.7,610.9 L398.2,609.9 L400.7,608.8 L403.2,607.4 L405.7,606.8 L408.2,606.7 L410.7,606.9 L413.2,606.2" fill="none" stroke="#1e1e1e" stroke-width="2.0" opacity="0.45" stroke-linecap="round" filter="url(#cblur)"/>
<path d="M366.8,602.5 L369.3,602.9 L371.8,604.5 L374.3,605.5 L376.8,606.6 L379.3,606.9 L381.8,607.8 L384.3,607.4 L386.8,607.9 L389.3,609.2 L391.8,611.2 L394.3,612.2 L396.8,612.6 L399.3,613.5 L401.8,613.4 L404.3,613.3 L406.8,613.0 L409.3,614.0" fill="none" stroke="#1e1e1e" stroke-width="2.5" opacity="0.45" stroke-linecap="round" filter="url(#cblur)"/>
<path d="M402.0,604.3 L404.5,605.2 L407.0,605.0 L409.5,605.7 L412.0,605.7 L414.5,605.8 L417.0,605.9 L419.5,605.2 L422.0,605.3 L424.5,604.9 L427.0,604.1 L429.5,602.2 L432.0,600.2 L434.5,598.2 L437.0,596.7 L439.5,594.9 L442.0,593.6" fill="none" stroke="#1e1e1e" stroke-width="1.9" opacity="0.45" stroke-linecap="round" filter="url(#cblur)"/>
<path d="M371.6,610.5 L374.1,611.5 L376.6,611.2 L379.1,610.6 L381.6,610.6 L384.1,609.9 L386.6,609.4 L389.1,608.7 L391.6,606.9 L394.1,606.2 L396.6,606.3 L399.1,605.7 L401.6,605.4 L404.1,604.5 L406.6,603.4 L409.1,602.3 L411.6,600.7 L414.1,598.8 L416.6,596.8" fill="none" stroke="#1e1e1e" stroke-width="2.6" opacity="0.45" stroke-linecap="round" filter="url(#cblur)"/>
<path d="M362.5,600.2 L365.0,601.0 L367.5,602.0 L370.0,603.5 L372.5,604.6 L375.0,606.5 L377.5,607.4 L380.0,607.4 L382.5,606.4 L385.0,605.9 L387.5,605.8 L390.0,605.0 L392.5,603.9 L395.0,603.7 L397.5,603.7 L400.0,602.6 L402.5,600.9" fill="none" stroke="#1e1e1e" stroke-width="2.0" opacity="0.45" stroke-linecap="round" filter="url(#cblur)"/>
<rect x="345.7" y="580.3" width="109.40000000000003" height="65.40000000000009" filter="url(#gp)" opacity="0.8"/>
</g>
<rect x="462.5" y="558.7" width="108.5" height="33.299999999999955" fill="url(#dk2)"/>
<clipPath id="c5"><path d="M462.5,645.7 L462.5,587.9 L464.1,587.7 L466.5,588.8 L468.3,589.4 L470.4,590.0 L472.0,588.5 L473.6,587.5 L475.2,589.6 L477.7,589.9 L479.7,589.3 L480.7,588.5 L482.2,589.5 L483.4,588.6 L485.1,589.9 L487.4,589.3 L488.6,589.8 L491.0,589.1 L492.5,589.0 L493.7,589.6 L496.2,589.0 L498.3,590.0 L499.6,590.3 L501.5,588.1 L502.6,588.2 L504.5,589.6 L506.0,590.3 L507.5,588.9 L508.7,590.4 L509.9,590.2 L511.7,589.2 L513.6,588.3 L515.9,590.5 L518.2,589.3 L519.3,590.0 L520.8,590.2 L522.1,589.2 L524.4,588.1 L526.2,587.7 L527.3,588.0 L529.7,590.3 L531.7,588.4 L533.7,589.7 L535.3,589.3 L537.5,587.5 L538.8,588.9 L540.0,588.7 L541.9,588.0 L543.7,588.3 L545.5,588.5 L547.5,587.6 L549.5,587.9 L551.9,589.3 L553.6,588.7 L555.6,589.6 L557.7,589.8 L559.4,590.5 L561.7,590.1 L563.3,588.8 L565.1,590.2 L566.9,589.1 L568.6,590.2 L570.1,587.7 L571.0,590.2 L571.0,645.7 Z"/></clipPath>
<g clip-path="url(#c5)">
<rect x="462.5" y="585" width="108.5" height="60.700000000000045" fill="url(#gy)"/>
<rect x="462.5" y="585" width="108.5" height="60.700000000000045" filter="url(#gb)"/>
<rect x="462.5" y="585" width="108.5" height="60.700000000000045" filter="url(#gl)"/>
<rect x="462.5" y="585" width="108.5" height="60.700000000000045" filter="url(#gd)"/>
<path d="M510.2,617.7 L512.7,617.6 L515.2,616.4 L517.7,614.4 L520.2,612.4 L522.7,610.4 L525.2,608.4 L527.7,606.4 L530.2,604.9 L532.7,603.5 L535.2,601.5 L537.7,599.5 L540.2,597.5 L542.7,595.5 L545.2,593.5 L547.7,592.5 L550.2,592.7" fill="none" stroke="#1e1e1e" stroke-width="2.6" opacity="0.45" stroke-linecap="round" filter="url(#cblur)"/>
<path d="M518.9,611.6 L521.4,611.8 L523.9,612.0 L526.4,613.4 L528.9,613.7 L531.4,614.7 L533.9,614.8 L536.4,615.0 L538.9,616.3 L541.4,616.3 L543.9,615.8 L546.4,614.7 L548.9,613.2 L551.4,611.2 L553.9,610.2 L556.4,609.9 L558.9,609.5 L561.4,608.6" fill="none" stroke="#1e1e1e" stroke-width="2.5" opacity="0.45" stroke-linecap="round" filter="url(#cblur)"/>
<path d="M465.5,598.1 L468.0,597.7 L470.5,598.5 L473.0,600.4 L475.5,602.3 L478.0,603.4 L480.5,604.1 L483.0,605.7 L485.5,607.7 L488.0,609.0 L490.5,611.0 L493.0,612.6 L495.5,614.2 L498.0,614.9 L500.5,616.6 L503.0,618.6 L505.5,619.9 L508.0,621.5" fill="none" stroke="#1e1e1e" stroke-width="2.0" opacity="0.45" stroke-linecap="round" filter="url(#cblur)"/>
<path d="M519.8,598.7 L522.3,598.7 L524.8,599.6 L527.3,601.4 L529.8,603.4 L532.3,604.5 L534.8,606.1 L537.3,608.1 L539.8,610.0 L542.3,610.8 L544.8,610.9" fill="none" stroke="#1e1e1e" stroke-width="2.2" opacity="0.45" stroke-linecap="round" filter="url(#cblur)"/>
<path d="M508.8,603.8 L511.3,603.8 L513.8,604.4 L516.3,604.8 L518.8,605.6 L521.3,607.3 L523.8,609.2 L526.3,610.5 L528.8,611.3 L531.3,613.1 L533.8,615.1" fill="none" stroke="#1e1e1e" stroke-width="2.1" opacity="0.45" stroke-linecap="round" filter="url(#cblur)"/>
</g>
<rect x="462.5" y="582" width="108.5" height="9" fill="url(#haze)"/>
<rect x="571" y="558.7" width="108.89999999999998" height="22.0" fill="url(#dka)"/>
<clipPath id="c6"><path d="M571.0,645.7 L571.0,578.3 L572.1,579.6 L573.8,577.8 L575.6,575.9 L577.5,576.8 L578.9,578.9 L580.0,576.8 L582.1,576.7 L583.6,577.9 L584.8,579.3 L587.3,575.8 L589.0,578.7 L590.6,579.4 L592.3,576.4 L594.2,578.3 L595.7,578.3 L597.9,577.8 L599.6,579.1 L601.7,577.8 L604.1,576.4 L606.3,576.4 L608.2,576.6 L609.8,578.8 L612.0,578.9 L613.4,577.7 L614.7,578.0 L616.4,575.8 L618.3,578.6 L620.2,579.2 L621.5,576.3 L622.5,577.7 L624.2,577.5 L625.5,578.9 L626.7,579.3 L628.5,577.9 L630.7,576.7 L631.9,576.9 L633.0,577.0 L634.9,577.8 L636.3,578.1 L637.4,579.0 L638.7,576.7 L639.9,578.5 L642.2,578.8 L643.3,577.3 L644.8,576.6 L647.3,575.9 L649.0,578.7 L651.5,576.3 L653.2,578.7 L654.2,576.7 L656.6,576.3 L658.2,576.9 L659.8,576.0 L660.8,579.7 L663.0,578.6 L664.3,576.7 L666.2,576.7 L667.9,579.4 L669.4,577.0 L671.9,578.1 L672.9,577.3 L674.9,575.9 L676.4,578.5 L678.7,578.1 L679.9,577.6 L679.9,645.7 Z"/></clipPath>
<g clip-path="url(#c6)">
<rect x="571" y="573.7" width="108.89999999999998" height="72.0" fill="url(#gy2)"/>
<rect x="571" y="573.7" width="108.89999999999998" height="72.0" filter="url(#gb)"/>
<rect x="571" y="573.7" width="108.89999999999998" height="72.0" filter="url(#gl)"/>
<rect x="571" y="573.7" width="108.89999999999998" height="72.0" filter="url(#gd)"/>
<path d="M596.7,624.5 L599.2,624.3 L601.7,623.7 L604.2,622.3 L606.7,621.0 L609.2,619.0 L611.7,617.0 L614.2,615.0 L616.7,613.0 L619.2,611.0 L621.7,609.0 L624.2,608.2 L626.7,607.9" fill="none" stroke="#1e1e1e" stroke-width="2.8" opacity="0.45" stroke-linecap="round" filter="url(#cblur)"/>
<path d="M584.4,603.3 L586.9,603.3 L589.4,602.7 L591.9,601.0 L594.4,599.0 L596.9,597.0 L599.4,595.0 L601.9,594.0 L604.4,593.6 L606.9,592.6" fill="none" stroke="#1e1e1e" stroke-width="2.2" opacity="0.45" stroke-linecap="round" filter="url(#cblur)"/>
<path d="M581.0,628.8 L583.5,629.8 L586.0,631.8 L588.5,632.6 L591.0,633.0 L593.5,633.0 L596.0,632.1 L598.5,632.0 L601.0,631.6 L603.5,631.8 L606.0,632.1 L608.5,631.2 L611.0,630.1" fill="none" stroke="#1e1e1e" stroke-width="2.1" opacity="0.45" stroke-linecap="round" filter="url(#cblur)"/>
<path d="M573.7,592.6 L576.2,591.4 L578.7,589.9 L581.2,588.5 L583.7,586.5 L586.2,585.0 L588.7,583.0 L591.2,581.6 L593.7,580.6 L596.2,578.7 L598.7,576.7 L601.2,574.7 L603.7,573.2 L606.2,571.5 L608.7,569.5" fill="none" stroke="#1e1e1e" stroke-width="2.8" opacity="0.45" stroke-linecap="round" filter="url(#cblur)"/>
<path d="M585.8,599.1 L588.3,597.5 L590.8,595.5 L593.3,593.8 L595.8,592.3 L598.3,591.6 L600.8,592.0 L603.3,592.0 L605.8,592.3 L608.3,593.8 L610.8,594.5 L613.3,595.7 L615.8,597.3" fill="none" stroke="#1e1e1e" stroke-width="2.9" opacity="0.45" stroke-linecap="round" filter="url(#cblur)"/>
<rect x="571" y="573.7" width="108.89999999999998" height="72.0" filter="url(#gp)" opacity="0.8"/>
<path d="M593,581 Q600,580.5 606,583.5 Q611,586.5 608.5,589.5 Q601,588 597.5,590.5 Q596,596 598,603 Q596.5,608.5 592,611 Q588,608 587.5,604.5 Q584,603.5 587.5,600 Q590,593 590.5,587 Q590.5,582.5 593,581 Z" fill="#101010" opacity="0.88" filter="url(#cblur)"/>
<ellipse cx="603.5" cy="595" rx="6.5" ry="5" fill="#5a5a5a" opacity="0.45" filter="url(#cblur)"/>
<ellipse cx="621" cy="591" rx="1.8" ry="1.5" fill="#151515" opacity="0.85"/>
<ellipse cx="631.6" cy="618" rx="2" ry="2" fill="#151515" opacity="0.85"/>
<ellipse cx="640.3" cy="615.4" rx="1.6" ry="1.6" fill="#151515" opacity="0.85"/>
<ellipse cx="604.4" cy="621.6" rx="1.6" ry="1.8" fill="#151515" opacity="0.85"/>
<ellipse cx="662.2" cy="597" rx="1.4" ry="1.4" fill="#151515" opacity="0.85"/>
<ellipse cx="648" cy="585" rx="1.3" ry="1.2" fill="#151515" opacity="0.85"/>
</g>
<rect x="571" y="631" width="108.9" height="14.7" fill="#7c7c7c" opacity="0.55"/>
<rect x="12.3" y="637.5" width="217.5" height="8.2" fill="#3a3a3a" opacity="0.45"/>
<rect x="238" y="635" width="107.7" height="10.7" fill="#3a3a3a" opacity="0.4"/>
<rect x="345.7" y="633" width="109.4" height="12.7" fill="#6a6a6a" opacity="0.35"/>
<rect x="462.5" y="633" width="108.5" height="12.7" fill="#8a8a8a" opacity="0.35"/>
<rect x="617.6" y="630" width="37.8" height="2" fill="#111"/>
<text x="24.3" y="569.3" font-size="10" text-anchor="start" fill="#fff" >20 μm</text>
<rect x="24.3" y="571.8" width="25.8" height="2.8" fill="#fff"/>
<text x="133.5" y="569.3" font-size="10" text-anchor="start" fill="#fff" >20 μm</text>
<rect x="133.5" y="571.8" width="25.8" height="2.8" fill="#fff"/>
<text x="249.6" y="569.3" font-size="10" text-anchor="start" fill="#fff" >20 μm</text>
<rect x="249.6" y="571.8" width="25.8" height="2.8" fill="#fff"/>
<text x="358.8" y="569.3" font-size="10" text-anchor="start" fill="#fff" >20 μm</text>
<rect x="358.8" y="571.8" width="25.8" height="2.8" fill="#fff"/>
<text x="474" y="569.3" font-size="10" text-anchor="start" fill="#fff" >20 μm</text>
<rect x="474" y="571.8" width="25.8" height="2.8" fill="#fff"/>
<text x="584" y="569.3" font-size="10" text-anchor="start" fill="#fff" >20 μm</text>
<rect x="584" y="571.8" width="25.8" height="2.8" fill="#fff"/>
<path d="M89.7,596 L89.7,630.6" stroke="#f6c84c" stroke-width="1.6"/>
<path d="M89.7,591 L86.9,597.5 L92.5,597.5 Z M89.7,635.6 L86.9,629.1 L92.5,629.1 Z" fill="#f6c84c"/>
<text x="45.3" y="617.4" font-size="10" text-anchor="start" fill="#f5c94c" >36.23 μm</text>
<path d="M194.6,594.4 L194.6,630.4" stroke="#f6c84c" stroke-width="1.6"/>
<path d="M194.6,589.4 L191.79999999999998,595.9 L197.4,595.9 Z M194.6,635.4 L191.79999999999998,628.9 L197.4,628.9 Z" fill="#f6c84c"/>
<text x="149" y="616.6" font-size="10" text-anchor="start" fill="#f5c94c" >37.39 μm</text>
<path d="M314.6,597.4 L314.6,629.3" stroke="#f6c84c" stroke-width="1.6"/>
<path d="M314.6,592.4 L311.8,598.9 L317.40000000000003,598.9 Z M314.6,634.3 L311.8,627.8 L317.40000000000003,627.8 Z" fill="#f6c84c"/>
<text x="270" y="616.6" font-size="10" text-anchor="start" fill="#f5c94c" >34.78 μm</text>
<path d="M423.6,590.7 L423.6,627.3" stroke="#f6c84c" stroke-width="1.6"/>
<path d="M423.6,585.7 L420.8,592.2 L426.40000000000003,592.2 Z M423.6,632.3 L420.8,625.8 L426.40000000000003,625.8 Z" fill="#f6c84c"/>
<text x="378.4" y="612.5" font-size="10" text-anchor="start" fill="#f5c94c" >37.83 μm</text>
<path d="M539.8,597.4 L539.8,629.3" stroke="#f6c84c" stroke-width="1.6"/>
<path d="M539.8,592.4 L537.0,598.9 L542.5999999999999,598.9 Z M539.8,634.3 L537.0,627.8 L542.5999999999999,627.8 Z" fill="#f6c84c"/>
<text x="494.9" y="618" font-size="10" text-anchor="start" fill="#f5c94c" >33.91 μm</text>
<path d="M644.5,584.2 L644.5,625.3" stroke="#f6c84c" stroke-width="1.6"/>
<path d="M644.5,579.2 L641.7,585.7 L647.3,585.7 Z M644.5,630.3 L641.7,623.8 L647.3,623.8 Z" fill="#f6c84c"/>
<text x="599.2" y="608.4" font-size="10" text-anchor="start" fill="#f5c94c" >41.03 μm</text>
</svg></body></html>
